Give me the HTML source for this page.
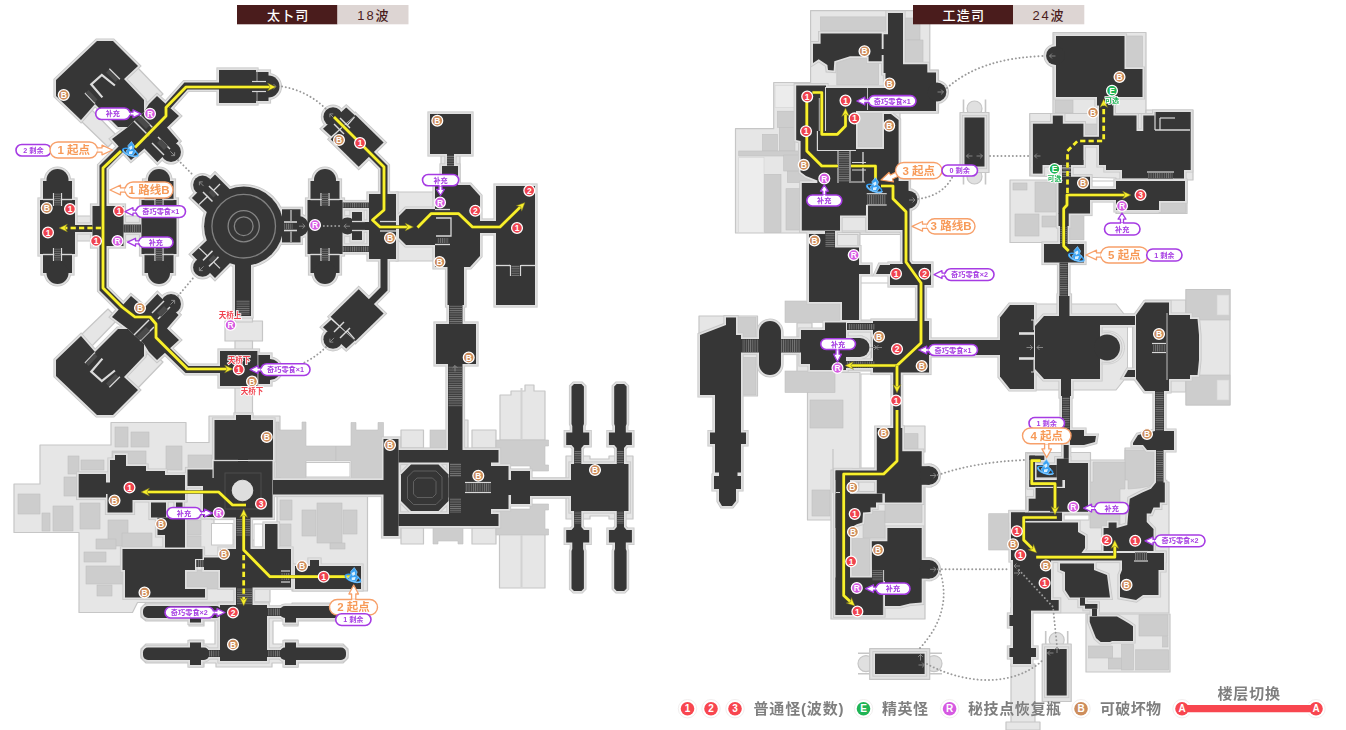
<!DOCTYPE html>
<html lang="zh"><head><meta charset="utf-8"><title>map</title><style>
html,body{margin:0;padding:0;background:#fff;}
body{width:1346px;height:730px;overflow:hidden;font-family:"Liberation Sans","Noto Sans CJK SC",sans-serif;}
svg{display:block}
.mt{fill:#fff;font-weight:700;text-anchor:middle;font-family:"Liberation Sans","Noto Sans CJK SC",sans-serif}
.lt{font-weight:700;text-anchor:middle;font-family:"Liberation Sans","Noto Sans CJK SC",sans-serif}
.tt{text-anchor:middle;font-family:"Liberation Sans","Noto Sans CJK SC",sans-serif}
.rt{fill:#f0434f;font-weight:700;text-anchor:middle;font-size:7.5px;stroke:#fff;stroke-width:1.6px;paint-order:stroke;font-family:"Liberation Sans","Noto Sans CJK SC",sans-serif}
.gt{fill:#1fb455;font-weight:700;text-anchor:middle;font-size:7px;stroke:#fff;stroke-width:1.6px;paint-order:stroke;font-family:"Liberation Sans","Noto Sans CJK SC",sans-serif}
.lg{fill:#7f7f7f;font-size:15px;font-weight:700;font-family:"Liberation Sans","Noto Sans CJK SC",sans-serif}
</style></head><body>
<svg width="1346" height="730" viewBox="0 0 1346 730">
<defs><pattern id="sh" width="4" height="2.2" patternUnits="userSpaceOnUse"><rect width="4" height="0.9" fill="#787878"/></pattern><pattern id="sv" width="2.2" height="4" patternUnits="userSpaceOnUse"><rect width="0.9" height="4" fill="#787878"/></pattern></defs>
<g fill="#e6e6e6" stroke="#c6c6c6" stroke-width="1.2" stroke-linejoin="round"><polygon points="124,79 137,67 163,94 150,105"/>
<polygon points="81,121 92,110 118,137 108,147"/>
<polygon points="124,377 137,389 163,362 150,351"/>
<polygon points="81,335 92,346 118,319 108,309"/>
<rect x="75" y="216" width="17.5" height="25"/>
<rect x="123.5" y="216" width="17.5" height="25"/>
<rect x="225" y="321" width="37.5" height="20"/>
<rect x="235" y="316" width="17.5" height="6"/>
<rect x="235" y="341" width="17.5" height="10"/>
<rect x="235" y="386" width="17.5" height="30"/>
<rect x="342.5" y="207" width="26.5" height="40"/>
<rect x="396" y="192" width="40" height="69"/>
<rect x="441" y="154" width="19" height="32"/>
<polygon points="14,484 40,484 40,445 111,445 111,422.5 186,422.5 186,442.5 209,442.5 209,416 280,416 280,480 214,480 214,540 270,540 270,602 137.5,602.5 132.5,612.5 79,612.5 79,532.5 14,532.5"/>
<polygon points="277,495 367.5,495 367.5,591 292,591 292,549 277,549"/>
<polygon points="218,602 269,602 269,606 292,606 292,603 343,603 348,608 348,617 343,621 298,621 298,626 284,626 284,621 273,621 273,644 284,644 284,640 298,640 298,644 343,644 348,649 348,658 343,663 298,663 298,667 284,667 284,663 272,663 272,667 216,667 216,663 204,663 204,667 189,667 189,663 146,663 141,658 141,649 146,644 189,644 189,640 204,640 204,644 215,644 215,621 204,621 204,626 189,626 189,621 146,621 141,617 141,608 146,603 218,603"/>
<rect x="398.5" y="462.5" width="51.5" height="51.5"/>
<polygon points="566,456 590,456 590,459 609,459 609,456 633,456 633,519 609,519 609,516 590,516 590,519 566,519 566,498 530,498 530,478 566,478"/>
<polygon points="500,395 511,395 511,391 525,391 525,385 534,385 534,391 545,391 545,440 500,440"/>
<polygon points="499.5,533 545,533 545,588 499.5,588"/>
<rect x="401" y="430" width="22.5" height="18"/>
<rect x="472" y="430" width="24" height="18"/>
<rect x="464" y="420" width="4" height="28"/>
<rect x="401" y="526" width="22.5" height="18"/>
<rect x="472" y="526" width="24" height="18"/>
<polygon points="810.6,10.6 929.8,10.6 929.8,70 938.5,70 938.5,113 900,113 900,233 735.5,233 735.5,128.7 773.7,128.7 773.7,82.5 810.6,82.5"/>
<rect x="840" y="216" width="26" height="15"/>
<rect x="835" y="232.5" width="25" height="15"/>
<rect x="837" y="234.5" width="21" height="12.5"/>
<rect x="699" y="316" width="58.5" height="80"/>
<rect x="797" y="323" width="15" height="51"/>
<polygon points="807.5,372.5 860,372.5 860,470 835.6,470 835.6,520 807.5,520"/>
<rect x="845" y="322" width="28" height="49"/>
<rect x="831" y="470" width="94" height="149"/>
<rect x="902" y="426" width="23" height="26"/>
<rect x="858.7" y="480" width="18.1" height="13.6"/>
<circle cx="974.5" cy="108.5" r="7.5" fill="#e0e0e0"/>
<circle cx="974.5" cy="176.5" r="7.5" fill="#e0e0e0"/>
<path d="M963.5,99.5 V184.5 M985.5,99.5 V184.5" fill="none" stroke-width="1.6"/>
<rect x="960" y="112.5" width="29" height="60" fill="#e2e2e2"/>
<circle cx="1056.7" cy="640" r="7.5" fill="#e0e0e0"/>
<path d="M1045.7,631 V701.5 M1067.7,631 V701.5" fill="none" stroke-width="1.6"/>
<rect x="1042.2" y="644" width="29" height="57.5" fill="#e2e2e2"/>
<circle cx="866" cy="663.6" r="8" fill="#e0e0e0"/><circle cx="934" cy="663.6" r="8" fill="#e0e0e0"/><path d="M858,653.3 H942 M858,673.8 H942" fill="none" stroke-width="1.6"/><rect x="869.7" y="648.7" width="60" height="30.7" fill="#e2e2e2"/>
<rect x="1053" y="32.5" width="93" height="81.5"/>
<polygon points="1029.7,113.5 1146,113.5 1146,110 1193,110 1193,180 1187,180 1187,213.5 1116,213.5 1116,178 1029.7,176"/>
<polygon points="1010,180 1059,180 1059,242.5 1010,242.5"/>
<polygon points="1000,317 1010,304 1116,304 1124,314 1135,314 1145,300 1186,300 1186,392 1145,392 1135,380 1124,380 1116,390 1010,390 1000,377"/>
<rect x="1186" y="289.5" width="44" height="115.5"/>
<rect x="1025.6" y="452.5" width="64.9" height="62.5"/>
<polygon points="1090.5,460 1125,460 1125,448 1156,448 1156,482 1169,482 1169,613 1020,613 1020,515 1090.5,515"/>
<polygon points="1086,614 1170,614 1170,672 1086,672"/>
<rect x="1011" y="664" width="24" height="66"/>
<rect x="1006" y="722" width="34" height="8"/></g>
<g fill="#cdcdcd" stroke="#c0c0c0" stroke-width="0.6"><rect x="18" y="494" width="22" height="20"/>
<rect x="42" y="513" width="8" height="18"/>
<rect x="53" y="506" width="20" height="25"/>
<rect x="80" y="503" width="20" height="26"/>
<rect x="64" y="477" width="13" height="19"/>
<rect x="68" y="456" width="11" height="18"/>
<rect x="81" y="460" width="23" height="10"/>
<rect x="115" y="427" width="13" height="20"/>
<rect x="131" y="432" width="18" height="15"/>
<rect x="112" y="451" width="34" height="13"/>
<rect x="166" y="446" width="16" height="24"/>
<rect x="188" y="455" width="24" height="15"/>
<rect x="108" y="520" width="20" height="26"/>
<rect x="122" y="533" width="30" height="15"/>
<rect x="96" y="539" width="20" height="10"/>
<rect x="84" y="552" width="22" height="10"/>
<rect x="86" y="566" width="38" height="18"/>
<rect x="97" y="585" width="15" height="11"/>
<rect x="187" y="520" width="14" height="15"/>
<rect x="187" y="536" width="14" height="15"/>
<rect x="186" y="570" width="34" height="19"/>
<rect x="158" y="549" width="28" height="11"/>
<rect x="302" y="510" width="14" height="26"/>
<rect x="317" y="503" width="25" height="40"/>
<rect x="343" y="510" width="14" height="24"/>
<rect x="330" y="543" width="15" height="6"/>
<rect x="280" y="500" width="12" height="20"/>
<rect x="280" y="524" width="11" height="22"/>
<polygon points="276,422 279,422 279,430 302,430 302,422 306,422 306,446 336,446 336,461 306,461 306,477.5 276,477.5"/>
<polygon points="351,422.5 356,422.5 356,430 378,430 378,422.5 383.5,422.5 383.5,477.5 351,477.5 351,461 336,461 336,446 351,446"/>
<polygon points="496,440 548.5,440 548.5,446 545,446 545,465 548.5,465 548.5,471 530,471 530,466 496,466"/>
<polygon points="496,535 548.5,535 548.5,529 545,529 545,510 548.5,510 548.5,504 530,504 530,509 496,509"/>
<rect x="430" y="430" width="17" height="18"/>
<polygon points="433,526 463,526 463,544 458,544 458,541 438,541 438,544 433,544"/>
<rect x="820.6" y="16.9" width="65.4" height="13.7"/>
<rect x="905" y="18" width="15" height="22"/>
<rect x="905" y="40" width="18" height="23.7"/>
<rect x="836.8" y="56" width="41.8" height="29"/>
<rect x="856" y="111" width="28" height="38"/>
<rect x="777.4" y="111.2" width="17.6" height="16.2"/>
<rect x="779.3" y="127.4" width="15.7" height="23.6"/>
<rect x="762.5" y="134.3" width="14.9" height="16.7"/>
<rect x="738.7" y="151" width="61.3" height="5"/>
<rect x="783.7" y="155" width="16.3" height="16"/>
<rect x="787.4" y="171.2" width="22.6" height="11.3"/>
<rect x="786" y="188.7" width="14.5" height="41.3"/>
<rect x="764.3" y="174.3" width="16.7" height="58.1"/>
<rect x="785" y="301" width="57.5" height="21.5"/>
<rect x="737.5" y="317.5" width="18.5" height="20"/>
<rect x="742.5" y="357.5" width="13.5" height="37.5"/>
<rect x="785" y="371" width="50" height="21.5"/>
<rect x="810" y="400" width="33" height="28"/>
<rect x="812" y="490" width="18" height="26"/>
<rect x="903.6" y="433.7" width="14.4" height="15.3"/>
<rect x="863" y="511" width="22" height="27"/>
<rect x="885" y="503.7" width="37" height="18.8"/>
<rect x="850" y="538.7" width="20" height="38.8"/>
<rect x="1124.5" y="36" width="18" height="33"/>
<rect x="1055" y="100" width="18" height="13"/>
<rect x="1085" y="124" width="12" height="12"/>
<rect x="1159" y="201" width="27" height="11.5"/>
<rect x="1013" y="183" width="14" height="7"/>
<rect x="1035" y="182" width="21" height="30"/>
<rect x="1015" y="214" width="24" height="22"/>
<rect x="1042" y="216" width="14" height="11"/>
<rect x="1069" y="212.5" width="15" height="27.5"/>
<rect x="1186" y="289.5" width="44" height="30.5"/>
<rect x="1186" y="375" width="44" height="30"/>
<rect x="988.7" y="513.7" width="21.3" height="36.3"/>
<polygon points="1125,450 1155,450 1155,485 1140,488 1128,489 1128,480 1125,480"/>
<polygon points="1093,462 1125,462 1125,489 1120,489 1120,528 1090,528 1090,482 1093,482"/>
<rect x="1139" y="614.8" width="29" height="21.2"/>
<rect x="1162.6" y="636.7" width="5.4" height="10.3"/>
<rect x="1135.7" y="649.8" width="32.9" height="20.2"/>
<rect x="1121.5" y="644.4" width="12" height="25.6"/>
<rect x="1108.4" y="658" width="13.1" height="11"/>
<rect x="1088.6" y="646" width="24.1" height="12"/></g>
<g fill="#e6e6e6" stroke="#d4d4d4" stroke-width="0.6"><path d="M521.5,388 V440 M521.5,535 V587" fill="none" stroke="#d2d2d2" stroke-width="2"/>
<rect x="775" y="85.6" width="20" height="22" fill="#ececec"/><rect x="738.7" y="157.5" width="25.3" height="75" fill="#ededed"/>
<rect x="1217" y="295" width="12" height="20"/>
<rect x="1217" y="380" width="12" height="20"/></g>
<g fill="#fff" stroke="#c6c6c6" stroke-width="1"><rect x="211.5" y="523.5" width="21.5" height="21.5"/>
<rect x="254" y="524" width="8.5" height="23"/>
<rect x="306" y="462.5" width="44" height="14.5"/>
<rect x="860" y="234.5" width="42" height="50.5"/>
<rect x="860" y="283" width="57" height="37"/>
<rect x="861" y="374" width="30" height="94"/>
<rect x="1091" y="181" width="24" height="7"/>
<rect x="1127.5" y="326" width="5" height="43"/>
<rect x="1063.7" y="515" width="25.3" height="5"/></g>
<g fill="#c8c8c8" stroke="#c8c8c8" stroke-width="5.2" stroke-linejoin="miter"><polygon points="97,41 113,41 138,66 124,79 144,100 144,112 128,127 118,127 95,104 81,120 56,96 56,80"/>
<polygon points="157,96 179,116 167,127.5 178.6,141 157.4,162 144.5,148.5 131,160 112,139 128,127 144,112 149,104"/>
<circle cx="171" cy="152" r="10"/>
<polygon points="97,415 113,415 138,390 124,377 144,356 144,344 128,329 118,329 95,352 81,336 56,360 56,376"/>
<polygon points="157,360 179,340 167,328.5 178.6,315 157.4,294 144.5,307.5 131,296 112,317 128,329 144,344 149,352"/>
<circle cx="171" cy="304" r="10"/>
<rect x="219" y="70" width="37" height="33"/>
<rect x="256" y="72" width="12.5" height="29"/>
<circle cx="268.5" cy="86.5" r="11"/>
<circle cx="57.5" cy="180" r="11"/>
<rect x="43" y="181" width="29" height="18"/>
<rect x="40" y="200" width="35" height="54"/>
<rect x="43" y="255" width="29" height="18"/>
<circle cx="57.5" cy="273" r="11"/>
<circle cx="159" cy="180" r="11"/>
<rect x="144.5" y="181" width="29" height="18"/>
<rect x="141.5" y="200" width="35" height="54"/>
<rect x="144.5" y="255" width="29" height="18"/>
<circle cx="159" cy="273" r="11"/>
<circle cx="325" cy="180" r="11"/>
<rect x="310.5" y="181" width="29" height="18"/>
<rect x="307.5" y="200" width="35" height="54"/>
<rect x="310.5" y="255" width="29" height="18"/>
<circle cx="325" cy="273" r="11"/>
<rect x="75" y="225" width="17.5" height="7"/>
<rect x="123.5" y="224.5" width="17.5" height="8"/>
<rect x="92.5" y="206" width="31" height="40"/>
<circle cx="243.7" cy="226.2" r="39.6"/>
<circle cx="202.5" cy="185" r="9.4"/>
<polygon points="215,174.4 233,192.5 211,216 191.9,198"/>
<circle cx="202.5" cy="267.4" r="9.4"/>
<polygon points="215,278 233,259.9 211,236.4 191.9,254.4"/>
<rect x="282" y="209.3" width="18.5" height="33.1"/>
<circle cx="298.5" cy="226.2" r="10.3"/>
<rect x="235" y="262" width="16" height="54"/>
<rect x="220" y="351" width="37.5" height="35"/>
<rect x="257.5" y="355" width="12.5" height="29"/>
<circle cx="270" cy="369.5" r="10.5"/>
<rect x="342.5" y="202.5" width="26.5" height="5.5"/>
<rect x="342.5" y="246" width="26.5" height="6"/>
<circle cx="347.5" cy="226" r="8.5"/>
<rect x="352" y="212" width="10" height="28"/>
<rect x="352" y="222" width="17" height="8"/>
<rect x="369" y="194" width="27" height="65"/>
<polygon points="399,216 406,209 452,209 452,245 406,245 399,238"/>
<polygon points="435,185 470,185 480,196 480,256 470,267 435,267"/>
<rect x="430" y="114" width="41" height="40"/>
<rect x="447" y="154" width="7" height="13"/>
<rect x="442" y="166" width="16" height="20"/>
<rect x="447.5" y="267" width="16.5" height="38"/>
<rect x="449" y="305" width="13.5" height="19"/>
<rect x="436" y="324" width="40" height="40"/>
<rect x="448" y="364" width="14.5" height="88"/>
<rect x="480" y="221" width="16" height="12"/>
<rect x="496" y="186" width="39" height="119"/>
<circle cx="333" cy="116.8" r="9.6"/>
<polygon points="346.2,107.5 355,115.6 331.2,136.2 323,128.7"/>
<polygon points="355.5,115 383.6,142.4 358.7,166.8 330.6,139.3"/>
<circle cx="333" cy="339.2" r="9.6"/>
<polygon points="346.2,348.5 355,340.4 331.2,319.8 323,327.3"/>
<polygon points="355.5,341 383.6,313.6 358.7,289.2 330.6,316.7"/>
<rect x="78.7" y="474" width="27.3" height="23.5"/>
<polygon points="115,455 126,455 126,466 146,466 146,471 165,471 165,475 185,475 185,500 132.5,500 132.5,512.5 107.5,512.5 107.5,494 101,494 101,482.5 110,482.5 110,460 115,460"/>
<rect x="187.5" y="469.5" width="25" height="16.5"/>
<rect x="151" y="502.5" width="15" height="15"/>
<rect x="176" y="502.5" width="6.5" height="15"/>
<polygon points="157.5,517.5 185,517.5 185,547.5 165,547.5 165,535 157.5,535"/>
<polygon points="122.5,549 202.5,549 202.5,559 195,559 195,570 185,570 185,589 205,589 205,597.5 125,597.5 125,570 122.5,570"/>
<rect x="214.5" y="420" width="58.5" height="40"/>
<rect x="236" y="415" width="15" height="6"/>
<rect x="213.7" y="461" width="58.8" height="56.5"/>
<rect x="203" y="478" width="11" height="39"/>
<rect x="273" y="480" width="111" height="14.5"/>
<rect x="236" y="517" width="14.5" height="33"/>
<rect x="265" y="524" width="12.5" height="25"/>
<polygon points="220,549 291,549 291,587.5 220,587.5 220,570 204,570 204,557.5 220,557.5"/>
<rect x="236" y="587" width="16.5" height="19"/>
<polygon points="295,566 310,566 310,560 319,560 319,566 361,566 361,589 295,589"/>
<rect x="220" y="605" width="47" height="56"/>
<rect x="143" y="606" width="78" height="12" rx="5"/>
<rect x="190" y="617" width="11" height="5.5"/>
<rect x="280" y="606" width="66" height="12" rx="5"/>
<rect x="285" y="617" width="11" height="5.5"/>
<rect x="267" y="608" width="14" height="8"/>
<rect x="143" y="647.5" width="66" height="12.5" rx="5"/>
<rect x="190" y="642.5" width="11" height="22.5"/>
<rect x="280" y="647.5" width="66" height="12.5" rx="5"/>
<rect x="285" y="642.5" width="11" height="22.5"/>
<rect x="208" y="650" width="13" height="7"/>
<rect x="267" y="650" width="14" height="7"/>
<rect x="383.5" y="439" width="15" height="97"/>
<rect x="398.5" y="450" width="100" height="12.5"/>
<rect x="398.5" y="514" width="100" height="12"/>
<polygon points="411,464.5 438.5,464.5 448.5,474.5 448.5,501 438.5,511 411,511 401,501 401,474.5"/>
<rect x="449" y="462" width="13" height="16"/>
<rect x="449" y="497" width="13" height="17"/>
<rect x="448.5" y="477.5" width="16.5" height="20"/>
<polygon points="462,462 491,462 491,526 462,526 462,495 465,495 465,480 462,480"/>
<rect x="491" y="466" width="17.5" height="43"/>
<rect x="511" y="471" width="19" height="33"/>
<rect x="508" y="480" width="4" height="15"/>
<rect x="530" y="480" width="41" height="16"/>
<rect x="571" y="464" width="57.5" height="47"/>
<polygon points="574,384 581.4,384 583.9,386.5 583.9,424 583.1,426 583.1,432.5 589.2,432.5 589.2,445 583.9,445 581.3,448 581.3,464 574.1,464 574.1,448 571.5,445 566.2,445 566.2,432.5 572.3,432.5 572.3,426 571.5,424 571.5,386.5"/>
<polygon points="574,591 581.4,591 583.9,588.5 583.9,551 583.1,549 583.1,542.5 589.2,542.5 589.2,530 583.9,530 581.3,527 581.3,511 574.1,511 574.1,527 571.5,530 566.2,530 566.2,542.5 572.3,542.5 572.3,549 571.5,551 571.5,588.5"/>
<polygon points="616.7,384 624.1,384 626.6,386.5 626.6,424 625.8,426 625.8,432.5 631.9,432.5 631.9,445 626.6,445 624,448 624,464 616.8,464 616.8,448 614.2,445 608.9,445 608.9,432.5 615,432.5 615,426 614.2,424 614.2,386.5"/>
<polygon points="616.7,591 624.1,591 626.6,588.5 626.6,551 625.8,549 625.8,542.5 631.9,542.5 631.9,530 626.6,530 624,527 624,511 616.8,511 616.8,527 614.2,530 608.9,530 608.9,542.5 615,542.5 615,549 614.2,551 614.2,588.5"/>
<polygon points="820.6,33.5 881.7,33.5 881.7,61.2 868.6,61.2 868.6,56.2 850,56.2 834.3,61.2 833.7,70.5 828,70 827.4,65 818.7,59.3 813,63 813,43.7 820.6,43.7"/>
<polygon points="888,13 903,13 903,64.3 927.3,64.3 927.3,72.4 936,72.4 936,111 826,111 826,88 885.5,88 885.5,73 883.6,73 883.6,34.3 888,34.3"/>
<rect x="881" y="49" width="4" height="6"/>
<circle cx="937" cy="92" r="9.4"/>
<circle cx="908.5" cy="199.7" r="9"/>
<polygon points="796.2,85.6 826,85.6 826,111 856,111 856,149 884,149 884,114 891,114 898.6,120 898.6,181 908.5,181 908.5,230 868,230 868,205 866,205 866,215.5 840,215.5 840,230.5 801.8,230.5 801.8,183 817.4,183 817.4,180.6 806,176 800.6,172 800.6,141 796.2,140"/>
<polygon points="809,234 835,234 835,247.5 859,247.5 859,265 870,265 870,274 859,274 859,320 842,320 842,302 809,302"/>
<rect x="825" y="231" width="10" height="17"/>
<rect x="890" y="264" width="41" height="21"/>
<polygon points="876,274 880,265 890,265 890,274"/>
<polygon points="700,335 726,325 726,317.5 736,317.5 736,335 741,335 741,432.5 746,432.5 746,444 741,444 741,472.5 737.5,472.5 737.5,476 741,476 741,489 736,489 736,501 732,506 722,506 719,501 719,489 714,489 714,476 719,476 719,472.5 715,472.5 715,444 710,444 710,432.5 715,432.5 715,395 700,395"/>
<rect x="741" y="339" width="18" height="13.5"/>
<rect x="759" y="321" width="22" height="54" rx="11"/>
<rect x="781" y="339" width="20" height="13.5"/>
<polygon points="801,330 825,330 825,322.5 846,322.5 846,338 860,338 860,357 846,357 846,370 810,370 810,364 801,364"/>
<circle cx="860" cy="347.5" r="9.5"/>
<rect x="847" y="323" width="29" height="7"/>
<rect x="845" y="361" width="31" height="7"/>
<rect x="873" y="321" width="56" height="51.5"/>
<rect x="929" y="340" width="71" height="15"/>
<polygon points="876.8,428 902.3,428 902.3,451.2 921.7,451.2 921.7,502.4 884.9,502.4 884.9,493.6 876.8,493.6"/>
<rect x="835.6" y="470.5" width="41.4" height="9.5"/>
<rect x="835.6" y="470.5" width="14.4" height="144.5"/>
<polygon points="835.6,493.7 882.4,493.7 882.4,502.5 876,502.5 876,507.5 870.5,507.5 870.5,512 863,512.5 862.4,522.5 856.8,524.3 850,528 835.6,528"/>
<polygon points="887.4,528 921.7,528 921.7,602.5 910,603.5 900,606 885,606 885,581 872,581 871.8,541.2 887.4,541.2"/>
<rect x="835.6" y="577.5" width="47.4" height="37.5"/>
<circle cx="929.2" cy="475.5" r="9.3"/>
<rect x="921" y="466.2" width="8.5" height="18.6"/>
<circle cx="929.2" cy="569.3" r="9.3"/>
<rect x="921" y="560" width="8.5" height="18.6"/>
<rect x="964.5" y="117.5" width="20" height="49"/>
<rect x="1046.7" y="649" width="20" height="46.5"/>
<rect x="875" y="653.7" width="49.6" height="20.3"/>
<polygon points="1056,36 1124.5,36 1124.5,69 1142.5,69 1142.5,97 1056,97"/>
<circle cx="1055.5" cy="55.7" r="9.4"/>
<rect x="1032.9" y="123.7" width="50.5" height="41.3"/>
<rect x="1052.8" y="115.6" width="10" height="8.4"/>
<rect x="1032.9" y="165" width="9.6" height="8.6"/>
<rect x="1062" y="165" width="9" height="12"/>
<rect x="1083" y="136.8" width="17" height="8.2"/>
<rect x="1071" y="160" width="12.4" height="5"/>
<polygon points="1097,97 1113.4,97 1113.4,115.6 1136.5,115.6 1136.5,131 1143.3,131 1143.3,115.6 1154.6,115.6 1154.6,112 1190.7,112 1190.7,170 1184,170 1184,178.6 1122,178.6 1122,170 1106,170 1106,165 1099,165 1099,105.6 1097,105.6"/>
<rect x="1058.5" y="176.8" width="31.5" height="36.7"/>
<rect x="1058.5" y="213" width="10.2" height="13"/>
<polygon points="1116,181 1185,181 1185,201 1159,201 1159,210 1116,210"/>
<rect x="1088" y="189" width="30" height="11"/>
<rect x="1060" y="226" width="7.5" height="18.5"/>
<rect x="1044" y="244" width="40" height="18.5"/>
<rect x="1059.5" y="262.5" width="8.5" height="34.5"/>
<rect x="1059" y="296" width="10.5" height="21"/>
<polygon points="1010,305 1034,305 1034,389 1010,389 1000,376.5 1000,317.5"/>
<polygon points="1044,316 1135,316 1135,325 1100,325 1100,379 1044,379 1035,369 1035,326"/>
<circle cx="1107" cy="347.5" r="13"/>
<rect x="1061" y="379" width="10" height="17"/>
<rect x="1062" y="396" width="8" height="35"/>
<polygon points="1124,377 1128,370 1135,370 1135,377"/>
<polygon points="1145,302.5 1169,302.5 1169,391 1145,391 1136,379 1136,315"/>
<polygon points="1167.5,315 1190,315 1190,319 1197.5,319 1199,335 1199,360 1197.5,375 1190,375 1190,379 1167.5,379"/>
<rect x="1155" y="391" width="9" height="41"/>
<polygon points="1070,430 1084,430 1084,436 1096,436 1095,442 1084,445 1070,445"/>
<polygon points="1133,443 1138,435 1155,431 1174,431 1174,450 1147,450 1143,445 1133,445"/>
<rect x="1156" y="450" width="7.5" height="33"/>
<rect x="1029.3" y="455.6" width="15" height="4.4"/>
<rect x="1029.3" y="455.6" width="5.7" height="31.2"/>
<rect x="1029.3" y="480" width="33.1" height="6.8"/>
<rect x="1036" y="465" width="20.8" height="12.4"/>
<rect x="1056.8" y="458.7" width="11.9" height="21.3"/>
<rect x="1063.7" y="445" width="5" height="13.7"/>
<rect x="1065" y="463" width="23" height="48.8"/>
<rect x="1035.6" y="488" width="29.4" height="23.8"/>
<rect x="1028.7" y="498.7" width="7.3" height="13.1"/>
<rect x="1011" y="512.5" width="51" height="8.5"/>
<polygon points="1025,522.5 1078,522.5 1078,532 1085,536 1085,548 1080,555 1025,555"/>
<rect x="1011" y="512.5" width="14" height="47.5"/>
<rect x="1013" y="553" width="38" height="47"/>
<rect x="1013" y="600" width="45.7" height="10.6"/>
<rect x="1013" y="610" width="18" height="54"/>
<rect x="1009.4" y="615" width="3.6" height="11"/>
<rect x="1009.4" y="648" width="26.6" height="9"/>
<rect x="1035" y="553" width="129" height="7.5"/>
<polygon points="1156,482.4 1164.8,482.4 1164.8,502.4 1159.8,502.4 1159.8,507.4 1153.5,507.4 1151,513.6 1146.7,513.6 1146.7,522 1153.5,529 1153.5,551 1103.6,551 1103.6,528 1108.6,528 1108.6,522.5 1116.6,522.5 1116.6,528 1127.3,524.9 1128.6,510 1129.8,498.7 1134.8,496.2 1142.3,492.4 1151,488.7"/>
<polygon points="1122,553.7 1164,553.7 1164,570 1158.5,570 1158.5,595 1143,595 1136,600 1120,597 1120,575 1122,570"/>
<polygon points="1060,563.6 1094,563.6 1094,570 1107,575 1110,597.5 1070,597.5 1065,590 1065,572 1060,570"/>
<rect x="1080" y="597.5" width="5" height="8.1"/>
<rect x="1085" y="604" width="12.4" height="4.7"/>
<rect x="1092" y="608.7" width="5" height="7.3"/>
<polygon points="1089.7,616.4 1117,616.4 1124,620.5 1129,623.5 1133,626.3 1133,641 1112,641 1110,642 1100.7,642 1096,638 1092,628 1089.7,622"/><polyline points="168,106 186,86 222,86" fill="none" stroke-width="12.2"/><polyline points="122,148 103,167 103,289 122,308" fill="none" stroke-width="12.2"/><polyline points="166,349 187,369.5 222,369.5" fill="none" stroke-width="12.2"/><polyline points="371,154 384,167 384,196" fill="none" stroke-width="12.2"/><polyline points="384,258 384,289 371,302" fill="none" stroke-width="12.2"/><polyline points="906,208 906,262 921,283 921,323" fill="none" stroke-width="12.2"/><polyline points="897,372 897,429" fill="none" stroke-width="12.7"/></g>
<g fill="#e0e0e0" stroke="#e0e0e0" stroke-width="3.4" stroke-linejoin="miter"><polygon points="97,41 113,41 138,66 124,79 144,100 144,112 128,127 118,127 95,104 81,120 56,96 56,80"/>
<polygon points="157,96 179,116 167,127.5 178.6,141 157.4,162 144.5,148.5 131,160 112,139 128,127 144,112 149,104"/>
<circle cx="171" cy="152" r="10"/>
<polygon points="97,415 113,415 138,390 124,377 144,356 144,344 128,329 118,329 95,352 81,336 56,360 56,376"/>
<polygon points="157,360 179,340 167,328.5 178.6,315 157.4,294 144.5,307.5 131,296 112,317 128,329 144,344 149,352"/>
<circle cx="171" cy="304" r="10"/>
<rect x="219" y="70" width="37" height="33"/>
<rect x="256" y="72" width="12.5" height="29"/>
<circle cx="268.5" cy="86.5" r="11"/>
<circle cx="57.5" cy="180" r="11"/>
<rect x="43" y="181" width="29" height="18"/>
<rect x="40" y="200" width="35" height="54"/>
<rect x="43" y="255" width="29" height="18"/>
<circle cx="57.5" cy="273" r="11"/>
<circle cx="159" cy="180" r="11"/>
<rect x="144.5" y="181" width="29" height="18"/>
<rect x="141.5" y="200" width="35" height="54"/>
<rect x="144.5" y="255" width="29" height="18"/>
<circle cx="159" cy="273" r="11"/>
<circle cx="325" cy="180" r="11"/>
<rect x="310.5" y="181" width="29" height="18"/>
<rect x="307.5" y="200" width="35" height="54"/>
<rect x="310.5" y="255" width="29" height="18"/>
<circle cx="325" cy="273" r="11"/>
<rect x="75" y="225" width="17.5" height="7"/>
<rect x="123.5" y="224.5" width="17.5" height="8"/>
<rect x="92.5" y="206" width="31" height="40"/>
<circle cx="243.7" cy="226.2" r="39.6"/>
<circle cx="202.5" cy="185" r="9.4"/>
<polygon points="215,174.4 233,192.5 211,216 191.9,198"/>
<circle cx="202.5" cy="267.4" r="9.4"/>
<polygon points="215,278 233,259.9 211,236.4 191.9,254.4"/>
<rect x="282" y="209.3" width="18.5" height="33.1"/>
<circle cx="298.5" cy="226.2" r="10.3"/>
<rect x="235" y="262" width="16" height="54"/>
<rect x="220" y="351" width="37.5" height="35"/>
<rect x="257.5" y="355" width="12.5" height="29"/>
<circle cx="270" cy="369.5" r="10.5"/>
<rect x="342.5" y="202.5" width="26.5" height="5.5"/>
<rect x="342.5" y="246" width="26.5" height="6"/>
<circle cx="347.5" cy="226" r="8.5"/>
<rect x="352" y="212" width="10" height="28"/>
<rect x="352" y="222" width="17" height="8"/>
<rect x="369" y="194" width="27" height="65"/>
<polygon points="399,216 406,209 452,209 452,245 406,245 399,238"/>
<polygon points="435,185 470,185 480,196 480,256 470,267 435,267"/>
<rect x="430" y="114" width="41" height="40"/>
<rect x="447" y="154" width="7" height="13"/>
<rect x="442" y="166" width="16" height="20"/>
<rect x="447.5" y="267" width="16.5" height="38"/>
<rect x="449" y="305" width="13.5" height="19"/>
<rect x="436" y="324" width="40" height="40"/>
<rect x="448" y="364" width="14.5" height="88"/>
<rect x="480" y="221" width="16" height="12"/>
<rect x="496" y="186" width="39" height="119"/>
<circle cx="333" cy="116.8" r="9.6"/>
<polygon points="346.2,107.5 355,115.6 331.2,136.2 323,128.7"/>
<polygon points="355.5,115 383.6,142.4 358.7,166.8 330.6,139.3"/>
<circle cx="333" cy="339.2" r="9.6"/>
<polygon points="346.2,348.5 355,340.4 331.2,319.8 323,327.3"/>
<polygon points="355.5,341 383.6,313.6 358.7,289.2 330.6,316.7"/>
<rect x="78.7" y="474" width="27.3" height="23.5"/>
<polygon points="115,455 126,455 126,466 146,466 146,471 165,471 165,475 185,475 185,500 132.5,500 132.5,512.5 107.5,512.5 107.5,494 101,494 101,482.5 110,482.5 110,460 115,460"/>
<rect x="187.5" y="469.5" width="25" height="16.5"/>
<rect x="151" y="502.5" width="15" height="15"/>
<rect x="176" y="502.5" width="6.5" height="15"/>
<polygon points="157.5,517.5 185,517.5 185,547.5 165,547.5 165,535 157.5,535"/>
<polygon points="122.5,549 202.5,549 202.5,559 195,559 195,570 185,570 185,589 205,589 205,597.5 125,597.5 125,570 122.5,570"/>
<rect x="214.5" y="420" width="58.5" height="40"/>
<rect x="236" y="415" width="15" height="6"/>
<rect x="213.7" y="461" width="58.8" height="56.5"/>
<rect x="203" y="478" width="11" height="39"/>
<rect x="273" y="480" width="111" height="14.5"/>
<rect x="236" y="517" width="14.5" height="33"/>
<rect x="265" y="524" width="12.5" height="25"/>
<polygon points="220,549 291,549 291,587.5 220,587.5 220,570 204,570 204,557.5 220,557.5"/>
<rect x="236" y="587" width="16.5" height="19"/>
<polygon points="295,566 310,566 310,560 319,560 319,566 361,566 361,589 295,589"/>
<rect x="220" y="605" width="47" height="56"/>
<rect x="143" y="606" width="78" height="12" rx="5"/>
<rect x="190" y="617" width="11" height="5.5"/>
<rect x="280" y="606" width="66" height="12" rx="5"/>
<rect x="285" y="617" width="11" height="5.5"/>
<rect x="267" y="608" width="14" height="8"/>
<rect x="143" y="647.5" width="66" height="12.5" rx="5"/>
<rect x="190" y="642.5" width="11" height="22.5"/>
<rect x="280" y="647.5" width="66" height="12.5" rx="5"/>
<rect x="285" y="642.5" width="11" height="22.5"/>
<rect x="208" y="650" width="13" height="7"/>
<rect x="267" y="650" width="14" height="7"/>
<rect x="383.5" y="439" width="15" height="97"/>
<rect x="398.5" y="450" width="100" height="12.5"/>
<rect x="398.5" y="514" width="100" height="12"/>
<polygon points="411,464.5 438.5,464.5 448.5,474.5 448.5,501 438.5,511 411,511 401,501 401,474.5"/>
<rect x="449" y="462" width="13" height="16"/>
<rect x="449" y="497" width="13" height="17"/>
<rect x="448.5" y="477.5" width="16.5" height="20"/>
<polygon points="462,462 491,462 491,526 462,526 462,495 465,495 465,480 462,480"/>
<rect x="491" y="466" width="17.5" height="43"/>
<rect x="511" y="471" width="19" height="33"/>
<rect x="508" y="480" width="4" height="15"/>
<rect x="530" y="480" width="41" height="16"/>
<rect x="571" y="464" width="57.5" height="47"/>
<polygon points="574,384 581.4,384 583.9,386.5 583.9,424 583.1,426 583.1,432.5 589.2,432.5 589.2,445 583.9,445 581.3,448 581.3,464 574.1,464 574.1,448 571.5,445 566.2,445 566.2,432.5 572.3,432.5 572.3,426 571.5,424 571.5,386.5"/>
<polygon points="574,591 581.4,591 583.9,588.5 583.9,551 583.1,549 583.1,542.5 589.2,542.5 589.2,530 583.9,530 581.3,527 581.3,511 574.1,511 574.1,527 571.5,530 566.2,530 566.2,542.5 572.3,542.5 572.3,549 571.5,551 571.5,588.5"/>
<polygon points="616.7,384 624.1,384 626.6,386.5 626.6,424 625.8,426 625.8,432.5 631.9,432.5 631.9,445 626.6,445 624,448 624,464 616.8,464 616.8,448 614.2,445 608.9,445 608.9,432.5 615,432.5 615,426 614.2,424 614.2,386.5"/>
<polygon points="616.7,591 624.1,591 626.6,588.5 626.6,551 625.8,549 625.8,542.5 631.9,542.5 631.9,530 626.6,530 624,527 624,511 616.8,511 616.8,527 614.2,530 608.9,530 608.9,542.5 615,542.5 615,549 614.2,551 614.2,588.5"/>
<polygon points="820.6,33.5 881.7,33.5 881.7,61.2 868.6,61.2 868.6,56.2 850,56.2 834.3,61.2 833.7,70.5 828,70 827.4,65 818.7,59.3 813,63 813,43.7 820.6,43.7"/>
<polygon points="888,13 903,13 903,64.3 927.3,64.3 927.3,72.4 936,72.4 936,111 826,111 826,88 885.5,88 885.5,73 883.6,73 883.6,34.3 888,34.3"/>
<rect x="881" y="49" width="4" height="6"/>
<circle cx="937" cy="92" r="9.4"/>
<circle cx="908.5" cy="199.7" r="9"/>
<polygon points="796.2,85.6 826,85.6 826,111 856,111 856,149 884,149 884,114 891,114 898.6,120 898.6,181 908.5,181 908.5,230 868,230 868,205 866,205 866,215.5 840,215.5 840,230.5 801.8,230.5 801.8,183 817.4,183 817.4,180.6 806,176 800.6,172 800.6,141 796.2,140"/>
<polygon points="809,234 835,234 835,247.5 859,247.5 859,265 870,265 870,274 859,274 859,320 842,320 842,302 809,302"/>
<rect x="825" y="231" width="10" height="17"/>
<rect x="890" y="264" width="41" height="21"/>
<polygon points="876,274 880,265 890,265 890,274"/>
<polygon points="700,335 726,325 726,317.5 736,317.5 736,335 741,335 741,432.5 746,432.5 746,444 741,444 741,472.5 737.5,472.5 737.5,476 741,476 741,489 736,489 736,501 732,506 722,506 719,501 719,489 714,489 714,476 719,476 719,472.5 715,472.5 715,444 710,444 710,432.5 715,432.5 715,395 700,395"/>
<rect x="741" y="339" width="18" height="13.5"/>
<rect x="759" y="321" width="22" height="54" rx="11"/>
<rect x="781" y="339" width="20" height="13.5"/>
<polygon points="801,330 825,330 825,322.5 846,322.5 846,338 860,338 860,357 846,357 846,370 810,370 810,364 801,364"/>
<circle cx="860" cy="347.5" r="9.5"/>
<rect x="847" y="323" width="29" height="7"/>
<rect x="845" y="361" width="31" height="7"/>
<rect x="873" y="321" width="56" height="51.5"/>
<rect x="929" y="340" width="71" height="15"/>
<polygon points="876.8,428 902.3,428 902.3,451.2 921.7,451.2 921.7,502.4 884.9,502.4 884.9,493.6 876.8,493.6"/>
<rect x="835.6" y="470.5" width="41.4" height="9.5"/>
<rect x="835.6" y="470.5" width="14.4" height="144.5"/>
<polygon points="835.6,493.7 882.4,493.7 882.4,502.5 876,502.5 876,507.5 870.5,507.5 870.5,512 863,512.5 862.4,522.5 856.8,524.3 850,528 835.6,528"/>
<polygon points="887.4,528 921.7,528 921.7,602.5 910,603.5 900,606 885,606 885,581 872,581 871.8,541.2 887.4,541.2"/>
<rect x="835.6" y="577.5" width="47.4" height="37.5"/>
<circle cx="929.2" cy="475.5" r="9.3"/>
<rect x="921" y="466.2" width="8.5" height="18.6"/>
<circle cx="929.2" cy="569.3" r="9.3"/>
<rect x="921" y="560" width="8.5" height="18.6"/>
<rect x="964.5" y="117.5" width="20" height="49"/>
<rect x="1046.7" y="649" width="20" height="46.5"/>
<rect x="875" y="653.7" width="49.6" height="20.3"/>
<polygon points="1056,36 1124.5,36 1124.5,69 1142.5,69 1142.5,97 1056,97"/>
<circle cx="1055.5" cy="55.7" r="9.4"/>
<rect x="1032.9" y="123.7" width="50.5" height="41.3"/>
<rect x="1052.8" y="115.6" width="10" height="8.4"/>
<rect x="1032.9" y="165" width="9.6" height="8.6"/>
<rect x="1062" y="165" width="9" height="12"/>
<rect x="1083" y="136.8" width="17" height="8.2"/>
<rect x="1071" y="160" width="12.4" height="5"/>
<polygon points="1097,97 1113.4,97 1113.4,115.6 1136.5,115.6 1136.5,131 1143.3,131 1143.3,115.6 1154.6,115.6 1154.6,112 1190.7,112 1190.7,170 1184,170 1184,178.6 1122,178.6 1122,170 1106,170 1106,165 1099,165 1099,105.6 1097,105.6"/>
<rect x="1058.5" y="176.8" width="31.5" height="36.7"/>
<rect x="1058.5" y="213" width="10.2" height="13"/>
<polygon points="1116,181 1185,181 1185,201 1159,201 1159,210 1116,210"/>
<rect x="1088" y="189" width="30" height="11"/>
<rect x="1060" y="226" width="7.5" height="18.5"/>
<rect x="1044" y="244" width="40" height="18.5"/>
<rect x="1059.5" y="262.5" width="8.5" height="34.5"/>
<rect x="1059" y="296" width="10.5" height="21"/>
<polygon points="1010,305 1034,305 1034,389 1010,389 1000,376.5 1000,317.5"/>
<polygon points="1044,316 1135,316 1135,325 1100,325 1100,379 1044,379 1035,369 1035,326"/>
<circle cx="1107" cy="347.5" r="13"/>
<rect x="1061" y="379" width="10" height="17"/>
<rect x="1062" y="396" width="8" height="35"/>
<polygon points="1124,377 1128,370 1135,370 1135,377"/>
<polygon points="1145,302.5 1169,302.5 1169,391 1145,391 1136,379 1136,315"/>
<polygon points="1167.5,315 1190,315 1190,319 1197.5,319 1199,335 1199,360 1197.5,375 1190,375 1190,379 1167.5,379"/>
<rect x="1155" y="391" width="9" height="41"/>
<polygon points="1070,430 1084,430 1084,436 1096,436 1095,442 1084,445 1070,445"/>
<polygon points="1133,443 1138,435 1155,431 1174,431 1174,450 1147,450 1143,445 1133,445"/>
<rect x="1156" y="450" width="7.5" height="33"/>
<rect x="1029.3" y="455.6" width="15" height="4.4"/>
<rect x="1029.3" y="455.6" width="5.7" height="31.2"/>
<rect x="1029.3" y="480" width="33.1" height="6.8"/>
<rect x="1036" y="465" width="20.8" height="12.4"/>
<rect x="1056.8" y="458.7" width="11.9" height="21.3"/>
<rect x="1063.7" y="445" width="5" height="13.7"/>
<rect x="1065" y="463" width="23" height="48.8"/>
<rect x="1035.6" y="488" width="29.4" height="23.8"/>
<rect x="1028.7" y="498.7" width="7.3" height="13.1"/>
<rect x="1011" y="512.5" width="51" height="8.5"/>
<polygon points="1025,522.5 1078,522.5 1078,532 1085,536 1085,548 1080,555 1025,555"/>
<rect x="1011" y="512.5" width="14" height="47.5"/>
<rect x="1013" y="553" width="38" height="47"/>
<rect x="1013" y="600" width="45.7" height="10.6"/>
<rect x="1013" y="610" width="18" height="54"/>
<rect x="1009.4" y="615" width="3.6" height="11"/>
<rect x="1009.4" y="648" width="26.6" height="9"/>
<rect x="1035" y="553" width="129" height="7.5"/>
<polygon points="1156,482.4 1164.8,482.4 1164.8,502.4 1159.8,502.4 1159.8,507.4 1153.5,507.4 1151,513.6 1146.7,513.6 1146.7,522 1153.5,529 1153.5,551 1103.6,551 1103.6,528 1108.6,528 1108.6,522.5 1116.6,522.5 1116.6,528 1127.3,524.9 1128.6,510 1129.8,498.7 1134.8,496.2 1142.3,492.4 1151,488.7"/>
<polygon points="1122,553.7 1164,553.7 1164,570 1158.5,570 1158.5,595 1143,595 1136,600 1120,597 1120,575 1122,570"/>
<polygon points="1060,563.6 1094,563.6 1094,570 1107,575 1110,597.5 1070,597.5 1065,590 1065,572 1060,570"/>
<rect x="1080" y="597.5" width="5" height="8.1"/>
<rect x="1085" y="604" width="12.4" height="4.7"/>
<rect x="1092" y="608.7" width="5" height="7.3"/>
<polygon points="1089.7,616.4 1117,616.4 1124,620.5 1129,623.5 1133,626.3 1133,641 1112,641 1110,642 1100.7,642 1096,638 1092,628 1089.7,622"/><polyline points="168,106 186,86 222,86" fill="none" stroke-width="10.4"/><polyline points="122,148 103,167 103,289 122,308" fill="none" stroke-width="10.4"/><polyline points="166,349 187,369.5 222,369.5" fill="none" stroke-width="10.4"/><polyline points="371,154 384,167 384,196" fill="none" stroke-width="10.4"/><polyline points="384,258 384,289 371,302" fill="none" stroke-width="10.4"/><polyline points="906,208 906,262 921,283 921,323" fill="none" stroke-width="10.4"/><polyline points="897,372 897,429" fill="none" stroke-width="10.9"/></g>
<g fill="#363636" stroke="#363636"><g stroke="none"><polygon points="97,41 113,41 138,66 124,79 144,100 144,112 128,127 118,127 95,104 81,120 56,96 56,80"/>
<polygon points="157,96 179,116 167,127.5 178.6,141 157.4,162 144.5,148.5 131,160 112,139 128,127 144,112 149,104"/>
<circle cx="171" cy="152" r="10"/>
<polygon points="97,415 113,415 138,390 124,377 144,356 144,344 128,329 118,329 95,352 81,336 56,360 56,376"/>
<polygon points="157,360 179,340 167,328.5 178.6,315 157.4,294 144.5,307.5 131,296 112,317 128,329 144,344 149,352"/>
<circle cx="171" cy="304" r="10"/>
<rect x="219" y="70" width="37" height="33"/>
<rect x="256" y="72" width="12.5" height="29"/>
<circle cx="268.5" cy="86.5" r="11"/>
<circle cx="57.5" cy="180" r="11"/>
<rect x="43" y="181" width="29" height="18"/>
<rect x="40" y="200" width="35" height="54"/>
<rect x="43" y="255" width="29" height="18"/>
<circle cx="57.5" cy="273" r="11"/>
<circle cx="159" cy="180" r="11"/>
<rect x="144.5" y="181" width="29" height="18"/>
<rect x="141.5" y="200" width="35" height="54"/>
<rect x="144.5" y="255" width="29" height="18"/>
<circle cx="159" cy="273" r="11"/>
<circle cx="325" cy="180" r="11"/>
<rect x="310.5" y="181" width="29" height="18"/>
<rect x="307.5" y="200" width="35" height="54"/>
<rect x="310.5" y="255" width="29" height="18"/>
<circle cx="325" cy="273" r="11"/>
<rect x="75" y="225" width="17.5" height="7"/>
<rect x="123.5" y="224.5" width="17.5" height="8"/>
<rect x="92.5" y="206" width="31" height="40"/>
<circle cx="243.7" cy="226.2" r="39.6"/>
<circle cx="202.5" cy="185" r="9.4"/>
<polygon points="215,174.4 233,192.5 211,216 191.9,198"/>
<circle cx="202.5" cy="267.4" r="9.4"/>
<polygon points="215,278 233,259.9 211,236.4 191.9,254.4"/>
<rect x="282" y="209.3" width="18.5" height="33.1"/>
<circle cx="298.5" cy="226.2" r="10.3"/>
<rect x="235" y="262" width="16" height="54"/>
<rect x="220" y="351" width="37.5" height="35"/>
<rect x="257.5" y="355" width="12.5" height="29"/>
<circle cx="270" cy="369.5" r="10.5"/>
<rect x="342.5" y="202.5" width="26.5" height="5.5"/>
<rect x="342.5" y="246" width="26.5" height="6"/>
<circle cx="347.5" cy="226" r="8.5"/>
<rect x="352" y="212" width="10" height="28"/>
<rect x="352" y="222" width="17" height="8"/>
<rect x="369" y="194" width="27" height="65"/>
<polygon points="399,216 406,209 452,209 452,245 406,245 399,238"/>
<polygon points="435,185 470,185 480,196 480,256 470,267 435,267"/>
<rect x="430" y="114" width="41" height="40"/>
<rect x="447" y="154" width="7" height="13"/>
<rect x="442" y="166" width="16" height="20"/>
<rect x="447.5" y="267" width="16.5" height="38"/>
<rect x="449" y="305" width="13.5" height="19"/>
<rect x="436" y="324" width="40" height="40"/>
<rect x="448" y="364" width="14.5" height="88"/>
<rect x="480" y="221" width="16" height="12"/>
<rect x="496" y="186" width="39" height="119"/>
<circle cx="333" cy="116.8" r="9.6"/>
<polygon points="346.2,107.5 355,115.6 331.2,136.2 323,128.7"/>
<polygon points="355.5,115 383.6,142.4 358.7,166.8 330.6,139.3"/>
<circle cx="333" cy="339.2" r="9.6"/>
<polygon points="346.2,348.5 355,340.4 331.2,319.8 323,327.3"/>
<polygon points="355.5,341 383.6,313.6 358.7,289.2 330.6,316.7"/>
<rect x="78.7" y="474" width="27.3" height="23.5"/>
<polygon points="115,455 126,455 126,466 146,466 146,471 165,471 165,475 185,475 185,500 132.5,500 132.5,512.5 107.5,512.5 107.5,494 101,494 101,482.5 110,482.5 110,460 115,460"/>
<rect x="187.5" y="469.5" width="25" height="16.5"/>
<rect x="151" y="502.5" width="15" height="15"/>
<rect x="176" y="502.5" width="6.5" height="15"/>
<polygon points="157.5,517.5 185,517.5 185,547.5 165,547.5 165,535 157.5,535"/>
<polygon points="122.5,549 202.5,549 202.5,559 195,559 195,570 185,570 185,589 205,589 205,597.5 125,597.5 125,570 122.5,570"/>
<rect x="214.5" y="420" width="58.5" height="40"/>
<rect x="236" y="415" width="15" height="6"/>
<rect x="213.7" y="461" width="58.8" height="56.5"/>
<rect x="203" y="478" width="11" height="39"/>
<rect x="273" y="480" width="111" height="14.5"/>
<rect x="236" y="517" width="14.5" height="33"/>
<rect x="265" y="524" width="12.5" height="25"/>
<polygon points="220,549 291,549 291,587.5 220,587.5 220,570 204,570 204,557.5 220,557.5"/>
<rect x="236" y="587" width="16.5" height="19"/>
<polygon points="295,566 310,566 310,560 319,560 319,566 361,566 361,589 295,589"/>
<rect x="220" y="605" width="47" height="56"/>
<rect x="143" y="606" width="78" height="12" rx="5"/>
<rect x="190" y="617" width="11" height="5.5"/>
<rect x="280" y="606" width="66" height="12" rx="5"/>
<rect x="285" y="617" width="11" height="5.5"/>
<rect x="267" y="608" width="14" height="8"/>
<rect x="143" y="647.5" width="66" height="12.5" rx="5"/>
<rect x="190" y="642.5" width="11" height="22.5"/>
<rect x="280" y="647.5" width="66" height="12.5" rx="5"/>
<rect x="285" y="642.5" width="11" height="22.5"/>
<rect x="208" y="650" width="13" height="7"/>
<rect x="267" y="650" width="14" height="7"/>
<rect x="383.5" y="439" width="15" height="97"/>
<rect x="398.5" y="450" width="100" height="12.5"/>
<rect x="398.5" y="514" width="100" height="12"/>
<polygon points="411,464.5 438.5,464.5 448.5,474.5 448.5,501 438.5,511 411,511 401,501 401,474.5"/>
<rect x="449" y="462" width="13" height="16"/>
<rect x="449" y="497" width="13" height="17"/>
<rect x="448.5" y="477.5" width="16.5" height="20"/>
<polygon points="462,462 491,462 491,526 462,526 462,495 465,495 465,480 462,480"/>
<rect x="491" y="466" width="17.5" height="43"/>
<rect x="511" y="471" width="19" height="33"/>
<rect x="508" y="480" width="4" height="15"/>
<rect x="530" y="480" width="41" height="16"/>
<rect x="571" y="464" width="57.5" height="47"/>
<polygon points="574,384 581.4,384 583.9,386.5 583.9,424 583.1,426 583.1,432.5 589.2,432.5 589.2,445 583.9,445 581.3,448 581.3,464 574.1,464 574.1,448 571.5,445 566.2,445 566.2,432.5 572.3,432.5 572.3,426 571.5,424 571.5,386.5"/>
<polygon points="574,591 581.4,591 583.9,588.5 583.9,551 583.1,549 583.1,542.5 589.2,542.5 589.2,530 583.9,530 581.3,527 581.3,511 574.1,511 574.1,527 571.5,530 566.2,530 566.2,542.5 572.3,542.5 572.3,549 571.5,551 571.5,588.5"/>
<polygon points="616.7,384 624.1,384 626.6,386.5 626.6,424 625.8,426 625.8,432.5 631.9,432.5 631.9,445 626.6,445 624,448 624,464 616.8,464 616.8,448 614.2,445 608.9,445 608.9,432.5 615,432.5 615,426 614.2,424 614.2,386.5"/>
<polygon points="616.7,591 624.1,591 626.6,588.5 626.6,551 625.8,549 625.8,542.5 631.9,542.5 631.9,530 626.6,530 624,527 624,511 616.8,511 616.8,527 614.2,530 608.9,530 608.9,542.5 615,542.5 615,549 614.2,551 614.2,588.5"/>
<polygon points="820.6,33.5 881.7,33.5 881.7,61.2 868.6,61.2 868.6,56.2 850,56.2 834.3,61.2 833.7,70.5 828,70 827.4,65 818.7,59.3 813,63 813,43.7 820.6,43.7"/>
<polygon points="888,13 903,13 903,64.3 927.3,64.3 927.3,72.4 936,72.4 936,111 826,111 826,88 885.5,88 885.5,73 883.6,73 883.6,34.3 888,34.3"/>
<rect x="881" y="49" width="4" height="6"/>
<circle cx="937" cy="92" r="9.4"/>
<circle cx="908.5" cy="199.7" r="9"/>
<polygon points="796.2,85.6 826,85.6 826,111 856,111 856,149 884,149 884,114 891,114 898.6,120 898.6,181 908.5,181 908.5,230 868,230 868,205 866,205 866,215.5 840,215.5 840,230.5 801.8,230.5 801.8,183 817.4,183 817.4,180.6 806,176 800.6,172 800.6,141 796.2,140"/>
<polygon points="809,234 835,234 835,247.5 859,247.5 859,265 870,265 870,274 859,274 859,320 842,320 842,302 809,302"/>
<rect x="825" y="231" width="10" height="17"/>
<rect x="890" y="264" width="41" height="21"/>
<polygon points="876,274 880,265 890,265 890,274"/>
<polygon points="700,335 726,325 726,317.5 736,317.5 736,335 741,335 741,432.5 746,432.5 746,444 741,444 741,472.5 737.5,472.5 737.5,476 741,476 741,489 736,489 736,501 732,506 722,506 719,501 719,489 714,489 714,476 719,476 719,472.5 715,472.5 715,444 710,444 710,432.5 715,432.5 715,395 700,395"/>
<rect x="741" y="339" width="18" height="13.5"/>
<rect x="759" y="321" width="22" height="54" rx="11"/>
<rect x="781" y="339" width="20" height="13.5"/>
<polygon points="801,330 825,330 825,322.5 846,322.5 846,338 860,338 860,357 846,357 846,370 810,370 810,364 801,364"/>
<circle cx="860" cy="347.5" r="9.5"/>
<rect x="847" y="323" width="29" height="7"/>
<rect x="845" y="361" width="31" height="7"/>
<rect x="873" y="321" width="56" height="51.5"/>
<rect x="929" y="340" width="71" height="15"/>
<polygon points="876.8,428 902.3,428 902.3,451.2 921.7,451.2 921.7,502.4 884.9,502.4 884.9,493.6 876.8,493.6"/>
<rect x="835.6" y="470.5" width="41.4" height="9.5"/>
<rect x="835.6" y="470.5" width="14.4" height="144.5"/>
<polygon points="835.6,493.7 882.4,493.7 882.4,502.5 876,502.5 876,507.5 870.5,507.5 870.5,512 863,512.5 862.4,522.5 856.8,524.3 850,528 835.6,528"/>
<polygon points="887.4,528 921.7,528 921.7,602.5 910,603.5 900,606 885,606 885,581 872,581 871.8,541.2 887.4,541.2"/>
<rect x="835.6" y="577.5" width="47.4" height="37.5"/>
<circle cx="929.2" cy="475.5" r="9.3"/>
<rect x="921" y="466.2" width="8.5" height="18.6"/>
<circle cx="929.2" cy="569.3" r="9.3"/>
<rect x="921" y="560" width="8.5" height="18.6"/>
<rect x="964.5" y="117.5" width="20" height="49"/>
<rect x="1046.7" y="649" width="20" height="46.5"/>
<rect x="875" y="653.7" width="49.6" height="20.3"/>
<polygon points="1056,36 1124.5,36 1124.5,69 1142.5,69 1142.5,97 1056,97"/>
<circle cx="1055.5" cy="55.7" r="9.4"/>
<rect x="1032.9" y="123.7" width="50.5" height="41.3"/>
<rect x="1052.8" y="115.6" width="10" height="8.4"/>
<rect x="1032.9" y="165" width="9.6" height="8.6"/>
<rect x="1062" y="165" width="9" height="12"/>
<rect x="1083" y="136.8" width="17" height="8.2"/>
<rect x="1071" y="160" width="12.4" height="5"/>
<polygon points="1097,97 1113.4,97 1113.4,115.6 1136.5,115.6 1136.5,131 1143.3,131 1143.3,115.6 1154.6,115.6 1154.6,112 1190.7,112 1190.7,170 1184,170 1184,178.6 1122,178.6 1122,170 1106,170 1106,165 1099,165 1099,105.6 1097,105.6"/>
<rect x="1058.5" y="176.8" width="31.5" height="36.7"/>
<rect x="1058.5" y="213" width="10.2" height="13"/>
<polygon points="1116,181 1185,181 1185,201 1159,201 1159,210 1116,210"/>
<rect x="1088" y="189" width="30" height="11"/>
<rect x="1060" y="226" width="7.5" height="18.5"/>
<rect x="1044" y="244" width="40" height="18.5"/>
<rect x="1059.5" y="262.5" width="8.5" height="34.5"/>
<rect x="1059" y="296" width="10.5" height="21"/>
<polygon points="1010,305 1034,305 1034,389 1010,389 1000,376.5 1000,317.5"/>
<polygon points="1044,316 1135,316 1135,325 1100,325 1100,379 1044,379 1035,369 1035,326"/>
<circle cx="1107" cy="347.5" r="13"/>
<rect x="1061" y="379" width="10" height="17"/>
<rect x="1062" y="396" width="8" height="35"/>
<polygon points="1124,377 1128,370 1135,370 1135,377"/>
<polygon points="1145,302.5 1169,302.5 1169,391 1145,391 1136,379 1136,315"/>
<polygon points="1167.5,315 1190,315 1190,319 1197.5,319 1199,335 1199,360 1197.5,375 1190,375 1190,379 1167.5,379"/>
<rect x="1155" y="391" width="9" height="41"/>
<polygon points="1070,430 1084,430 1084,436 1096,436 1095,442 1084,445 1070,445"/>
<polygon points="1133,443 1138,435 1155,431 1174,431 1174,450 1147,450 1143,445 1133,445"/>
<rect x="1156" y="450" width="7.5" height="33"/>
<rect x="1029.3" y="455.6" width="15" height="4.4"/>
<rect x="1029.3" y="455.6" width="5.7" height="31.2"/>
<rect x="1029.3" y="480" width="33.1" height="6.8"/>
<rect x="1036" y="465" width="20.8" height="12.4"/>
<rect x="1056.8" y="458.7" width="11.9" height="21.3"/>
<rect x="1063.7" y="445" width="5" height="13.7"/>
<rect x="1065" y="463" width="23" height="48.8"/>
<rect x="1035.6" y="488" width="29.4" height="23.8"/>
<rect x="1028.7" y="498.7" width="7.3" height="13.1"/>
<rect x="1011" y="512.5" width="51" height="8.5"/>
<polygon points="1025,522.5 1078,522.5 1078,532 1085,536 1085,548 1080,555 1025,555"/>
<rect x="1011" y="512.5" width="14" height="47.5"/>
<rect x="1013" y="553" width="38" height="47"/>
<rect x="1013" y="600" width="45.7" height="10.6"/>
<rect x="1013" y="610" width="18" height="54"/>
<rect x="1009.4" y="615" width="3.6" height="11"/>
<rect x="1009.4" y="648" width="26.6" height="9"/>
<rect x="1035" y="553" width="129" height="7.5"/>
<polygon points="1156,482.4 1164.8,482.4 1164.8,502.4 1159.8,502.4 1159.8,507.4 1153.5,507.4 1151,513.6 1146.7,513.6 1146.7,522 1153.5,529 1153.5,551 1103.6,551 1103.6,528 1108.6,528 1108.6,522.5 1116.6,522.5 1116.6,528 1127.3,524.9 1128.6,510 1129.8,498.7 1134.8,496.2 1142.3,492.4 1151,488.7"/>
<polygon points="1122,553.7 1164,553.7 1164,570 1158.5,570 1158.5,595 1143,595 1136,600 1120,597 1120,575 1122,570"/>
<polygon points="1060,563.6 1094,563.6 1094,570 1107,575 1110,597.5 1070,597.5 1065,590 1065,572 1060,570"/>
<rect x="1080" y="597.5" width="5" height="8.1"/>
<rect x="1085" y="604" width="12.4" height="4.7"/>
<rect x="1092" y="608.7" width="5" height="7.3"/>
<polygon points="1089.7,616.4 1117,616.4 1124,620.5 1129,623.5 1133,626.3 1133,641 1112,641 1110,642 1100.7,642 1096,638 1092,628 1089.7,622"/></g><polyline points="168,106 186,86 222,86" fill="none" stroke-width="7"/><polyline points="122,148 103,167 103,289 122,308" fill="none" stroke-width="7"/><polyline points="166,349 187,369.5 222,369.5" fill="none" stroke-width="7"/><polyline points="371,154 384,167 384,196" fill="none" stroke-width="7"/><polyline points="384,258 384,289 371,302" fill="none" stroke-width="7"/><polyline points="906,208 906,262 921,283 921,323" fill="none" stroke-width="7"/><polyline points="897,372 897,429" fill="none" stroke-width="7.5"/></g>
<g><polyline points="102.4,97.4 91.2,84.3 101.8,75 114.9,85.5" fill="none" stroke="#dcdcdc" stroke-width="2.2"/>
<polyline points="109.3,68.7 119.9,79.3" fill="none" stroke="#d9d9d9" stroke-width="1.4"/>
<polyline points="85,93 95,103.6" fill="none" stroke="#d9d9d9" stroke-width="1.4"/>
<polygon points="106,72.5 109,69.5 118.5,79 115.5,82" fill="#4a4a4a"/>
<polygon points="88.5,90 85.5,93 94.5,102.5 97.5,99.5" fill="#4a4a4a"/>
<polyline points="134,121 149,136" fill="none" stroke="#d9d9d9" stroke-width="1.4"/>
<polyline points="140,115 154,129" fill="none" stroke="#d9d9d9" stroke-width="1.4"/>
<polygon points="137,120 141,116 150,125 146,129" fill="#4a4a4a"/>
<polyline points="152,143 164,155" fill="none" stroke="#d9d9d9" stroke-width="1.4"/>
<polyline points="158,137 170,149" fill="none" stroke="#d9d9d9" stroke-width="1.4"/>
<polygon points="157,143 161,139 168,146 164,150" fill="#4a4a4a"/>
<polyline points="102.4,358.6 91.2,371.7 101.8,381 114.9,370.5" fill="none" stroke="#dcdcdc" stroke-width="2.2"/>
<polyline points="109.3,387.3 119.9,376.7" fill="none" stroke="#d9d9d9" stroke-width="1.4"/>
<polyline points="85,363 95,352.4" fill="none" stroke="#d9d9d9" stroke-width="1.4"/>
<polygon points="106,383.5 109,386.5 118.5,377 115.5,374" fill="#4a4a4a"/>
<polygon points="88.5,366 85.5,363 94.5,353.5 97.5,356.5" fill="#4a4a4a"/>
<polyline points="134,335 149,320" fill="none" stroke="#d9d9d9" stroke-width="1.4"/>
<polyline points="140,341 154,327" fill="none" stroke="#d9d9d9" stroke-width="1.4"/>
<polygon points="137,336 141,340 150,331 146,327" fill="#4a4a4a"/>
<polyline points="152,313 164,301" fill="none" stroke="#d9d9d9" stroke-width="1.4"/>
<polyline points="158,319 170,307" fill="none" stroke="#d9d9d9" stroke-width="1.4"/>
<polygon points="157,313 161,317 168,310 164,306" fill="#4a4a4a"/>
<polyline points="252,81.5 266,81.5" fill="none" stroke="#d9d9d9" stroke-width="1.2"/>
<polyline points="252,91.5 266,91.5" fill="none" stroke="#d9d9d9" stroke-width="1.2"/>
<polyline points="257,70 257,81" fill="none" stroke="#bdbdbd" stroke-width="0.8"/>
<polyline points="257,92 257,103" fill="none" stroke="#bdbdbd" stroke-width="0.8"/>
<polyline points="43,199.5 53,199.5" fill="none" stroke="#d9d9d9" stroke-width="1.4"/>
<polyline points="62,199.5 72,199.5" fill="none" stroke="#d9d9d9" stroke-width="1.4"/>
<polyline points="53.5,193 53.5,206" fill="none" stroke="#d9d9d9" stroke-width="1.2"/>
<polyline points="61.5,193 61.5,206" fill="none" stroke="#d9d9d9" stroke-width="1.2"/>
<rect x="54.3" y="193.5" width="6.4" height="12" fill="#3c3c3c"/><rect x="54.3" y="193.5" width="6.4" height="12" fill="url(#sh)"/>
<polyline points="43,254.5 53,254.5" fill="none" stroke="#d9d9d9" stroke-width="1.4"/>
<polyline points="62,254.5 72,254.5" fill="none" stroke="#d9d9d9" stroke-width="1.4"/>
<polyline points="53.5,248 53.5,261" fill="none" stroke="#d9d9d9" stroke-width="1.2"/>
<polyline points="61.5,248 61.5,261" fill="none" stroke="#d9d9d9" stroke-width="1.2"/>
<rect x="54.3" y="248.5" width="6.4" height="12" fill="#3c3c3c"/><rect x="54.3" y="248.5" width="6.4" height="12" fill="url(#sh)"/>
<polyline points="144.5,199.5 154.5,199.5" fill="none" stroke="#d9d9d9" stroke-width="1.4"/>
<polyline points="163.5,199.5 173.5,199.5" fill="none" stroke="#d9d9d9" stroke-width="1.4"/>
<polyline points="155,193 155,206" fill="none" stroke="#d9d9d9" stroke-width="1.2"/>
<polyline points="163,193 163,206" fill="none" stroke="#d9d9d9" stroke-width="1.2"/>
<rect x="155.8" y="193.5" width="6.4" height="12" fill="#3c3c3c"/><rect x="155.8" y="193.5" width="6.4" height="12" fill="url(#sh)"/>
<polyline points="144.5,254.5 154.5,254.5" fill="none" stroke="#d9d9d9" stroke-width="1.4"/>
<polyline points="163.5,254.5 173.5,254.5" fill="none" stroke="#d9d9d9" stroke-width="1.4"/>
<polyline points="155,248 155,261" fill="none" stroke="#d9d9d9" stroke-width="1.2"/>
<polyline points="163,248 163,261" fill="none" stroke="#d9d9d9" stroke-width="1.2"/>
<rect x="155.8" y="248.5" width="6.4" height="12" fill="#3c3c3c"/><rect x="155.8" y="248.5" width="6.4" height="12" fill="url(#sh)"/>
<polyline points="310.5,199.5 320.5,199.5" fill="none" stroke="#d9d9d9" stroke-width="1.4"/>
<polyline points="329.5,199.5 339.5,199.5" fill="none" stroke="#d9d9d9" stroke-width="1.4"/>
<polyline points="321,193 321,206" fill="none" stroke="#d9d9d9" stroke-width="1.2"/>
<polyline points="329,193 329,206" fill="none" stroke="#d9d9d9" stroke-width="1.2"/>
<rect x="321.8" y="193.5" width="6.4" height="12" fill="#3c3c3c"/><rect x="321.8" y="193.5" width="6.4" height="12" fill="url(#sh)"/>
<polyline points="310.5,254.5 320.5,254.5" fill="none" stroke="#d9d9d9" stroke-width="1.4"/>
<polyline points="329.5,254.5 339.5,254.5" fill="none" stroke="#d9d9d9" stroke-width="1.4"/>
<polyline points="321,248 321,261" fill="none" stroke="#d9d9d9" stroke-width="1.2"/>
<polyline points="329,248 329,261" fill="none" stroke="#d9d9d9" stroke-width="1.2"/>
<rect x="321.8" y="248.5" width="6.4" height="12" fill="#3c3c3c"/><rect x="321.8" y="248.5" width="6.4" height="12" fill="url(#sh)"/>
<rect x="124" y="225" width="17" height="7" fill="#3c3c3c"/><rect x="124" y="225" width="17" height="7" fill="url(#sv)"/>
<polyline points="209,186 218.5,195.5" fill="none" stroke="#d9d9d9" stroke-width="1.5"/>
<polyline points="203,192 212.5,201.5" fill="none" stroke="#d9d9d9" stroke-width="1.5"/>
<polyline points="213.5,190.5 220,184" fill="none" stroke="#d9d9d9" stroke-width="1.3"/>
<polyline points="199,204.5 208,196" fill="none" stroke="#d9d9d9" stroke-width="1.3"/>
<polygon points="208.5,192.5 211.5,189.5 216.5,194.5 213.5,197.5" fill="#4a4a4a"/>
<polyline points="209,266.4 218.5,256.9" fill="none" stroke="#d9d9d9" stroke-width="1.5"/>
<polyline points="203,260.4 212.5,250.9" fill="none" stroke="#d9d9d9" stroke-width="1.5"/>
<polyline points="213.5,261.9 220,268.4" fill="none" stroke="#d9d9d9" stroke-width="1.3"/>
<polyline points="199,247.9 208,256.4" fill="none" stroke="#d9d9d9" stroke-width="1.3"/>
<polygon points="208.5,259.9 211.5,262.9 216.5,257.9 213.5,254.9" fill="#4a4a4a"/>
<polyline points="284,222 297,222" fill="none" stroke="#d9d9d9" stroke-width="1.6"/>
<polyline points="284,230.5 297,230.5" fill="none" stroke="#d9d9d9" stroke-width="1.6"/>
<rect x="284" y="223.5" width="9" height="5.5" fill="#3c3c3c"/><rect x="284" y="223.5" width="9" height="5.5" fill="url(#sv)"/>
<polyline points="291,210 291,221" fill="none" stroke="#cfcfcf" stroke-width="1.2"/>
<polyline points="291,231.5 291,242" fill="none" stroke="#cfcfcf" stroke-width="1.2"/>
<circle cx="243.7" cy="226.2" r="31.8" fill="none" stroke="#808080" stroke-width="1.3"/>
<circle cx="243.7" cy="226.2" r="15.6" fill="none" stroke="#858585" stroke-width="1.3"/>
<circle cx="243.7" cy="226.2" r="9.4" fill="none" stroke="#858585" stroke-width="1.3"/>
<rect x="236.5" y="300" width="13" height="15" fill="#3c3c3c"/><rect x="236.5" y="300" width="13" height="15" fill="url(#sh)"/>
<polyline points="258,351 258,386" fill="none" stroke="#bdbdbd" stroke-width="0.8"/>
<rect x="343" y="203" width="26" height="4.5" fill="#3c3c3c"/><rect x="343" y="203" width="26" height="4.5" fill="url(#sv)"/>
<rect x="343" y="246.5" width="26" height="5" fill="#3c3c3c"/><rect x="343" y="246.5" width="26" height="5" fill="url(#sv)"/>
<polyline points="352,221.5 365,221.5" fill="none" stroke="#d9d9d9" stroke-width="1.3"/>
<polyline points="352,230.5 365,230.5" fill="none" stroke="#d9d9d9" stroke-width="1.3"/>
<polyline points="380,221.5 396,221.5" fill="none" stroke="#d9d9d9" stroke-width="1.3"/>
<polyline points="380,231 396,231" fill="none" stroke="#d9d9d9" stroke-width="1.3"/>
<polyline points="435,209.5 450,209.5" fill="none" stroke="#d9d9d9" stroke-width="1.3"/>
<polyline points="435,244.5 450,244.5" fill="none" stroke="#d9d9d9" stroke-width="1.3"/>
<polyline points="436,218 451,218 451,236 436,236" fill="none" stroke="#d9d9d9" stroke-width="1.3"/>
<rect x="437" y="238" width="12" height="5" fill="#3c3c3c"/><rect x="437" y="238" width="12" height="5" fill="url(#sv)"/>
<rect x="447" y="155" width="7" height="11" fill="#3c3c3c"/><rect x="447" y="155" width="7" height="11" fill="url(#sh)"/>
<rect x="449.5" y="305" width="12.5" height="19" fill="#3c3c3c"/><rect x="449.5" y="305" width="12.5" height="19" fill="url(#sh)"/>
<rect x="448.5" y="366" width="13.5" height="41" fill="#3c3c3c"/><rect x="448.5" y="366" width="13.5" height="41" fill="url(#sh)"/>
<polyline points="496,265.5 510,265.5" fill="none" stroke="#d9d9d9" stroke-width="1.3"/>
<polyline points="521,265.5 535,265.5" fill="none" stroke="#d9d9d9" stroke-width="1.3"/>
<polyline points="510.5,265 510.5,276" fill="none" stroke="#d9d9d9" stroke-width="1.2"/>
<polyline points="520.5,265 520.5,276" fill="none" stroke="#d9d9d9" stroke-width="1.2"/>
<rect x="511.5" y="265" width="8" height="11" fill="#3c3c3c"/><rect x="511.5" y="265" width="8" height="11" fill="url(#sh)"/>
<polyline points="340,118 350,128" fill="none" stroke="#d9d9d9" stroke-width="1.4"/>
<polyline points="334,124 344,134" fill="none" stroke="#d9d9d9" stroke-width="1.4"/>
<polyline points="347,125.5 354.5,117" fill="none" stroke="#d9d9d9" stroke-width="1.2"/>
<polyline points="340,338 350,328" fill="none" stroke="#d9d9d9" stroke-width="1.4"/>
<polyline points="334,332 344,322" fill="none" stroke="#d9d9d9" stroke-width="1.4"/>
<polyline points="347,330.5 354.5,339" fill="none" stroke="#d9d9d9" stroke-width="1.2"/>
<polyline points="214,460.5 238,460.5" fill="none" stroke="#d9d9d9" stroke-width="1.3"/>
<polyline points="248,460.5 273,460.5" fill="none" stroke="#d9d9d9" stroke-width="1.3"/>
<rect x="225" y="473" width="36" height="36" fill="none" stroke="#4c4c4c" stroke-width="1"/>
<circle cx="242.5" cy="490.5" r="10.3" fill="#dedede" stroke="#f2f2f2" stroke-width="0.8"/>
<rect x="236.5" y="519" width="13.5" height="17" fill="#3c3c3c"/><rect x="236.5" y="519" width="13.5" height="17" fill="url(#sh)"/>
<rect x="196" y="560" width="8" height="7" fill="#3c3c3c"/><rect x="196" y="560" width="8" height="7" fill="url(#sv)"/>
<rect x="237" y="588" width="15" height="17" fill="#3c3c3c"/><rect x="237" y="588" width="15" height="17" fill="url(#sh)"/>
<polyline points="281,571 290,571" fill="none" stroke="#d9d9d9" stroke-width="1.2"/>
<polyline points="281,582 290,582" fill="none" stroke="#d9d9d9" stroke-width="1.2"/>
<rect x="281" y="573" width="9" height="7" fill="#3c3c3c"/><rect x="281" y="573" width="9" height="7" fill="url(#sv)"/>
<rect x="268" y="608.5" width="12" height="7" fill="#3c3c3c"/><rect x="268" y="608.5" width="12" height="7" fill="url(#sv)"/>
<rect x="209" y="650.5" width="11" height="6" fill="#3c3c3c"/><rect x="209" y="650.5" width="11" height="6" fill="url(#sv)"/>
<rect x="268" y="650.5" width="12" height="6" fill="#3c3c3c"/><rect x="268" y="650.5" width="12" height="6" fill="url(#sv)"/>
<polygon points="413.5,471 436,471 442,477 442,498.5 436,504.5 413.5,504.5 407.5,498.5 407.5,477" fill="none" stroke="#6a6a6a" stroke-width="0.8"/>
<polygon points="417,478 432.5,478 436,481.5 436,494 432.5,497.5 417,497.5 413.5,494 413.5,481.5" fill="none" stroke="#6a6a6a" stroke-width="0.8"/>
<rect x="450" y="463" width="11" height="14" fill="#3c3c3c"/><rect x="450" y="463" width="11" height="14" fill="url(#sh)"/>
<rect x="450" y="498" width="11" height="15" fill="#3c3c3c"/><rect x="450" y="498" width="11" height="15" fill="url(#sh)"/>
<rect x="465" y="483.5" width="26" height="8" fill="#3c3c3c"/><rect x="465" y="483.5" width="26" height="8" fill="url(#sv)"/>
<polyline points="465,482.5 491,482.5" fill="none" stroke="#d9d9d9" stroke-width="1.2"/>
<polyline points="465,492.5 491,492.5" fill="none" stroke="#d9d9d9" stroke-width="1.2"/>
<rect x="574.5" y="451" width="6.4" height="12.5" fill="#3c3c3c"/><rect x="574.5" y="451" width="6.4" height="12.5" fill="url(#sh)"/>
<rect x="574.5" y="511.5" width="6.4" height="12.5" fill="#3c3c3c"/><rect x="574.5" y="511.5" width="6.4" height="12.5" fill="url(#sh)"/>
<rect x="617.2" y="451" width="6.4" height="12.5" fill="#3c3c3c"/><rect x="617.2" y="451" width="6.4" height="12.5" fill="url(#sh)"/>
<rect x="617.2" y="511.5" width="6.4" height="12.5" fill="#3c3c3c"/><rect x="617.2" y="511.5" width="6.4" height="12.5" fill="url(#sh)"/>
<path d="M-3,0 H3 M0.6,-2.4 L3,0 L0.6,2.4" fill="none" stroke="#8c8c8c" stroke-width="0.9" transform="translate(273,86.5) rotate(0)"/>
<path d="M-3,0 H3 M0.6,-2.4 L3,0 L0.6,2.4" fill="none" stroke="#8c8c8c" stroke-width="0.9" transform="translate(172.5,153.5) rotate(45)"/>
<path d="M-3,0 H3 M0.6,-2.4 L3,0 L0.6,2.4" fill="none" stroke="#8c8c8c" stroke-width="0.9" transform="translate(172.5,302.5) rotate(-45)"/>
<path d="M-3,0 H3 M0.6,-2.4 L3,0 L0.6,2.4" fill="none" stroke="#8c8c8c" stroke-width="0.9" transform="translate(201.5,184) rotate(-135)"/>
<path d="M-3,0 H3 M0.6,-2.4 L3,0 L0.6,2.4" fill="none" stroke="#8c8c8c" stroke-width="0.9" transform="translate(201.5,268.5) rotate(135)"/>
<path d="M-3,0 H3 M0.6,-2.4 L3,0 L0.6,2.4" fill="none" stroke="#8c8c8c" stroke-width="0.9" transform="translate(302,226.2) rotate(0)"/>
<path d="M-3,0 H3 M0.6,-2.4 L3,0 L0.6,2.4" fill="none" stroke="#8c8c8c" stroke-width="0.9" transform="translate(347,226.2) rotate(180)"/>
<path d="M-3,0 H3 M0.6,-2.4 L3,0 L0.6,2.4" fill="none" stroke="#8c8c8c" stroke-width="0.9" transform="translate(332,116) rotate(-135)"/>
<path d="M-3,0 H3 M0.6,-2.4 L3,0 L0.6,2.4" fill="none" stroke="#8c8c8c" stroke-width="0.9" transform="translate(332,340) rotate(135)"/>
<path d="M-3,0 H3 M0.6,-2.4 L3,0 L0.6,2.4" fill="none" stroke="#8c8c8c" stroke-width="0.9" transform="translate(272.5,369.5) rotate(0)"/>
<path d="M-3,0 H3 M0.6,-2.4 L3,0 L0.6,2.4" fill="none" stroke="#8c8c8c" stroke-width="0.9" transform="translate(455,368.5) rotate(-90)"/>
<polyline points="825.5,87 825.5,131" fill="none" stroke="#d9d9d9" stroke-width="1"/>
<polyline points="817.4,131 817.4,150.5 856,150.5" fill="none" stroke="#d9d9d9" stroke-width="1.2"/>
<polyline points="838,150.5 838,183" fill="none" stroke="#d9d9d9" stroke-width="1.1"/>
<polyline points="850,150.5 850,183" fill="none" stroke="#d9d9d9" stroke-width="1.1"/>
<rect x="839" y="152" width="10" height="30" fill="#3c3c3c"/><rect x="839" y="152" width="10" height="30" fill="url(#sh)"/>
<polyline points="851,182 865,182" fill="none" stroke="#d9d9d9" stroke-width="1"/>
<polyline points="863,152 863,182" fill="none" stroke="#cfcfcf" stroke-width="1.4"/>
<polyline points="852,162.5 866,162.5" fill="none" stroke="#d9d9d9" stroke-width="1"/>
<polyline points="852,170 866,170" fill="none" stroke="#d9d9d9" stroke-width="1"/>
<polyline points="819.5,98 819.5,131" fill="none" stroke="#9a9a9a" stroke-width="1.6"/>
<polyline points="867.5,88 867.5,110" fill="none" stroke="#bdbdbd" stroke-width="1"/>
<polyline points="866.7,193.7 886.7,193.7" fill="none" stroke="#d9d9d9" stroke-width="1.2"/>
<polyline points="866.7,205 886.7,205" fill="none" stroke="#d9d9d9" stroke-width="1.2"/>
<rect x="867" y="195" width="19" height="9" fill="#3c3c3c"/><rect x="867" y="195" width="19" height="9" fill="url(#sv)"/>
<rect x="825.5" y="232" width="9" height="15" fill="#3c3c3c"/><rect x="825.5" y="232" width="9" height="15" fill="url(#sh)"/>
<rect x="742" y="339.5" width="17" height="12.5" fill="#3c3c3c"/><rect x="742" y="339.5" width="17" height="12.5" fill="url(#sv)"/>
<rect x="781" y="339.5" width="19" height="12.5" fill="#3c3c3c"/><rect x="781" y="339.5" width="19" height="12.5" fill="url(#sv)"/>
<polyline points="833,449 833,493" fill="none" stroke="#c4c4c4" stroke-width="1.2"/>
<rect x="848" y="324" width="27" height="5.5" fill="#3c3c3c"/><rect x="848" y="324" width="27" height="5.5" fill="url(#sv)"/>
<rect x="846" y="361.5" width="29" height="6" fill="#3c3c3c"/><rect x="846" y="361.5" width="29" height="6" fill="url(#sv)"/>
<polyline points="871.5,337 871.5,358" fill="none" stroke="#bdbdbd" stroke-width="1"/>
<rect x="872.4" y="570" width="10" height="11" fill="#3c3c3c"/><rect x="872.4" y="570" width="10" height="11" fill="url(#sh)"/>
<polyline points="883.5,570 883.5,615" fill="none" stroke="#c4c4c4" stroke-width="1.2"/>
<polyline points="836,492.5 840,492.5" fill="none" stroke="#d9d9d9" stroke-width="1"/>
<rect x="1062.5" y="165" width="8" height="12" fill="#3c3c3c"/><rect x="1062.5" y="165" width="8" height="12" fill="url(#sh)"/>
<polyline points="1062,168 1071,168" fill="none" stroke="#d9d9d9" stroke-width="0.8"/>
<polyline points="1062,172 1071,172" fill="none" stroke="#d9d9d9" stroke-width="0.8"/>
<polyline points="1155,130 1190,130" fill="none" stroke="#d9d9d9" stroke-width="1.4"/>
<polyline points="1155,112 1155,130" fill="none" stroke="#d9d9d9" stroke-width="1.2"/>
<polyline points="1160,118 1175,118" fill="none" stroke="#d9d9d9" stroke-width="1.2"/>
<polyline points="1160,118 1160,130" fill="none" stroke="#d9d9d9" stroke-width="1.2"/>
<polyline points="1147,172 1174,172" fill="none" stroke="#d9d9d9" stroke-width="1.2"/>
<polyline points="1122,179.3 1174,179.3" fill="none" stroke="#d9d9d9" stroke-width="1.2"/>
<rect x="1148" y="173" width="25" height="5.5" fill="#3c3c3c"/><rect x="1148" y="173" width="25" height="5.5" fill="url(#sv)"/>
<rect x="1060.3" y="227" width="6.9" height="17" fill="#3c3c3c"/><rect x="1060.3" y="227" width="6.9" height="17" fill="url(#sh)"/>
<rect x="1060" y="263" width="7.5" height="33" fill="#3c3c3c"/><rect x="1060" y="263" width="7.5" height="33" fill="url(#sh)"/>
<polyline points="1019,333.5 1034,333.5" fill="none" stroke="#e0e0e0" stroke-width="2.6"/>
<polyline points="1019,358.5 1034,358.5" fill="none" stroke="#e0e0e0" stroke-width="2.6"/>
<polyline points="1031,320 1034,320 1034,330" fill="none" stroke="#cfcfcf" stroke-width="1.2"/>
<polyline points="1031,372 1034,372 1034,360" fill="none" stroke="#cfcfcf" stroke-width="1.2"/>
<path d="M1101,331 H1108 A16.5,16.5 0 0 1 1108,364 H1101" fill="none" stroke="#d0d0d0" stroke-width="1"/>
<rect x="1062.5" y="397" width="7" height="33" fill="#3c3c3c"/><rect x="1062.5" y="397" width="7" height="33" fill="url(#sh)"/>
<polyline points="1167,313 1167,380" fill="none" stroke="#bdbdbd" stroke-width="1"/>
<polyline points="1152,343.5 1166,343.5" fill="none" stroke="#d9d9d9" stroke-width="1.2"/>
<polyline points="1152,352.5 1166,352.5" fill="none" stroke="#d9d9d9" stroke-width="1.2"/>
<rect x="1153" y="344.5" width="13" height="7" fill="#3c3c3c"/><rect x="1153" y="344.5" width="13" height="7" fill="url(#sv)"/>
<rect x="1155.5" y="392" width="8" height="39" fill="#3c3c3c"/><rect x="1155.5" y="392" width="8" height="39" fill="url(#sh)"/>
<rect x="1156.5" y="451" width="6.5" height="31" fill="#3c3c3c"/><rect x="1156.5" y="451" width="6.5" height="31" fill="url(#sh)"/>
<polyline points="1036,465 1036,478.5 1056,478.5" fill="none" stroke="#d9d9d9" stroke-width="1.2"/>
<polyline points="1029,511.5 1050,511.5" fill="none" stroke="#d9d9d9" stroke-width="1.2"/>
<polyline points="1029,521.5 1050,521.5" fill="none" stroke="#d9d9d9" stroke-width="1.2"/>
<polyline points="1134,551.5 1148,551.5" fill="none" stroke="#d9d9d9" stroke-width="1.2"/>
<polyline points="1134,561 1148,561" fill="none" stroke="#d9d9d9" stroke-width="1.2"/>
<rect x="1135" y="552.5" width="12" height="7.5" fill="#3c3c3c"/><rect x="1135" y="552.5" width="12" height="7.5" fill="url(#sv)"/>
<path d="M-3,0 H3 M0.6,-2.4 L3,0 L0.6,2.4" fill="none" stroke="#8c8c8c" stroke-width="0.9" transform="translate(940.5,92) rotate(0)"/>
<path d="M-3,0 H3 M0.6,-2.4 L3,0 L0.6,2.4" fill="none" stroke="#8c8c8c" stroke-width="0.9" transform="translate(1052.5,56) rotate(180)"/>
<path d="M-3,0 H3 M0.6,-2.4 L3,0 L0.6,2.4" fill="none" stroke="#8c8c8c" stroke-width="0.9" transform="translate(912,200) rotate(0)"/>
<path d="M-3,0 H3 M0.6,-2.4 L3,0 L0.6,2.4" fill="none" stroke="#8c8c8c" stroke-width="0.9" transform="translate(933,475.5) rotate(0)"/>
<path d="M-3,0 H3 M0.6,-2.4 L3,0 L0.6,2.4" fill="none" stroke="#8c8c8c" stroke-width="0.9" transform="translate(933,569.3) rotate(0)"/>
<path d="M-3,0 H3 M0.6,-2.4 L3,0 L0.6,2.4" fill="none" stroke="#8c8c8c" stroke-width="0.9" transform="translate(1037.5,156) rotate(180)"/>
<path d="M-3,0 H3 M0.6,-2.4 L3,0 L0.6,2.4" fill="none" stroke="#8c8c8c" stroke-width="0.9" transform="translate(969.5,156) rotate(180)"/>
<path d="M-3,0 H3 M0.6,-2.4 L3,0 L0.6,2.4" fill="none" stroke="#8c8c8c" stroke-width="0.9" transform="translate(979.5,156) rotate(0)"/>
<path d="M-3,0 H3 M0.6,-2.4 L3,0 L0.6,2.4" fill="none" stroke="#8c8c8c" stroke-width="0.9" transform="translate(1029.5,347.5) rotate(0)"/>
<path d="M-3,0 H3 M0.6,-2.4 L3,0 L0.6,2.4" fill="none" stroke="#8c8c8c" stroke-width="0.9" transform="translate(1040,347.5) rotate(180)"/>
<path d="M-3,0 H3 M0.6,-2.4 L3,0 L0.6,2.4" fill="none" stroke="#8c8c8c" stroke-width="0.9" transform="translate(1017,566) rotate(180)"/>
<path d="M-3,0 H3 M0.6,-2.4 L3,0 L0.6,2.4" fill="none" stroke="#8c8c8c" stroke-width="0.9" transform="translate(1017,573) rotate(0)"/>
<path d="M-3,0 H3 M0.6,-2.4 L3,0 L0.6,2.4" fill="none" stroke="#8c8c8c" stroke-width="0.9" transform="translate(920.5,657.5) rotate(-90)"/>
<path d="M-3,0 H3 M0.6,-2.4 L3,0 L0.6,2.4" fill="none" stroke="#8c8c8c" stroke-width="0.9" transform="translate(921.5,665) rotate(0)"/>
<path d="M-3,0 H3 M0.6,-2.4 L3,0 L0.6,2.4" fill="none" stroke="#8c8c8c" stroke-width="0.9" transform="translate(1057,650) rotate(-90)"/>
<path d="M-3,0 H3 M0.6,-2.4 L3,0 L0.6,2.4" fill="none" stroke="#8c8c8c" stroke-width="0.9" transform="translate(1050.5,653) rotate(180)"/>
<path d="M-3,0 H3 M0.6,-2.4 L3,0 L0.6,2.4" fill="none" stroke="#8c8c8c" stroke-width="0.9" transform="translate(873.5,347.5) rotate(0)"/>
<path d="M-3,0 H3 M0.6,-2.4 L3,0 L0.6,2.4" fill="none" stroke="#8c8c8c" stroke-width="0.9" transform="translate(879,347.5) rotate(180)"/></g>
<g fill="none" stroke="#9a9a9a" stroke-width="1.9" stroke-dasharray="0.1 3.7" stroke-linecap="round"><path d="M282,86.5 A80,80 0 0 1 326,109"/>
<path d="M326,347 A80,80 0 0 1 283,369.5"/>
<path d="M178,160 L194,176"/>
<path d="M178,296 L194,277"/>
<path d="M320,226 L340,226"/>
<path d="M947,88 Q980,58 1044,56"/>
<path d="M918,199 Q948,195 956,168"/>
<path d="M990,156 H1030"/>
<path d="M938,475 Q975,462 1025,460"/>
<path d="M938,569.3 H1010"/>
<path d="M940,571 Q953,612 920,648"/>
<path d="M927,664 C960,682 1010,690 1043,660"/>
<path d="M1019,570 L1053,607 L1057.4,650"/></g>
<g><polyline points="135,147.5 166,116 166,107.5 186,87 270.5,87" fill="none" stroke="#57531c" stroke-width="3.5" stroke-linejoin="round"/>
<polyline points="135,147.5 166,116 166,107.5 186,87 270.5,87" fill="none" stroke="#f8f02c" stroke-width="2.7" stroke-linejoin="round"/>
<polygon points="276,87 267.5,90.9 270,87 267.5,83.1" fill="#f8ef2c" stroke="#6b6620" stroke-width="0.5" stroke-linejoin="round"/>
<polyline points="121,151 103,168 103,288 122,307 135,317 150,317 156,324 156,337.5 187.5,369 227.5,369" fill="none" stroke="#57531c" stroke-width="3.5" stroke-linejoin="round"/>
<polyline points="121,151 103,168 103,288 122,307 135,317 150,317 156,324 156,337.5 187.5,369 227.5,369" fill="none" stroke="#f8f02c" stroke-width="2.7" stroke-linejoin="round"/>
<polygon points="233,369 224.5,372.9 227,369 224.5,365.1" fill="#f8ef2c" stroke="#6b6620" stroke-width="0.5" stroke-linejoin="round"/>
<polyline points="101,228 64.5,228" fill="none" stroke="#57531c" stroke-width="3" stroke-linejoin="round" stroke-dasharray="5.2 3.2"/>
<polyline points="101,228 64.5,228" fill="none" stroke="#f8f02c" stroke-width="2.7" stroke-linejoin="round" stroke-dasharray="5.2 3.2"/>
<polygon points="59,228 67.5,224.1 65,228 67.5,231.9" fill="#f8ef2c" stroke="#6b6620" stroke-width="0.5" stroke-linejoin="round"/>
<polyline points="334,117 384,167 384,210 372.5,220 380,227 408,227" fill="none" stroke="#57531c" stroke-width="3.5" stroke-linejoin="round"/>
<polyline points="334,117 384,167 384,210 372.5,220 380,227 408,227" fill="none" stroke="#f8f02c" stroke-width="2.7" stroke-linejoin="round"/>
<polygon points="413.5,227 405,230.9 407.5,227 405,223.1" fill="#f8ef2c" stroke="#6b6620" stroke-width="0.5" stroke-linejoin="round"/>
<polyline points="417.5,227.5 431,213.7 458.7,213.7 472.5,227 500,227 521.1,206.3" fill="none" stroke="#57531c" stroke-width="3.5" stroke-linejoin="round"/>
<polyline points="417.5,227.5 431,213.7 458.7,213.7 472.5,227 500,227 521.1,206.3" fill="none" stroke="#f8f02c" stroke-width="2.7" stroke-linejoin="round"/>
<polygon points="525,202.5 521.7,211.2 520.7,206.7 516.2,205.7" fill="#f8ef2c" stroke="#6b6620" stroke-width="0.5" stroke-linejoin="round"/>
<polyline points="350,576.7 270,576.7 243.7,550 243.7,514.5" fill="none" stroke="#57531c" stroke-width="3.5" stroke-linejoin="round"/>
<polyline points="350,576.7 270,576.7 243.7,550 243.7,514.5" fill="none" stroke="#f8f02c" stroke-width="2.7" stroke-linejoin="round"/>
<polygon points="243.7,509 247.6,517.5 243.7,515 239.8,517.5" fill="#f8ef2c" stroke="#6b6620" stroke-width="0.5" stroke-linejoin="round"/>
<polyline points="243.7,555 243.7,600.5" fill="none" stroke="#57531c" stroke-width="3" stroke-linejoin="round" stroke-dasharray="5.2 3.2"/>
<polyline points="243.7,555 243.7,600.5" fill="none" stroke="#f8f02c" stroke-width="2.7" stroke-linejoin="round" stroke-dasharray="5.2 3.2"/>
<polygon points="243.7,606 239.8,597.5 243.7,600 247.6,597.5" fill="#f8ef2c" stroke="#6b6620" stroke-width="0.5" stroke-linejoin="round"/>
<polyline points="246,505 232.5,505 218.7,492 146.5,492" fill="none" stroke="#57531c" stroke-width="3.5" stroke-linejoin="round"/>
<polyline points="246,505 232.5,505 218.7,492 146.5,492" fill="none" stroke="#f8f02c" stroke-width="2.7" stroke-linejoin="round"/>
<polygon points="141,492 149.5,488.1 147,492 149.5,495.9" fill="#f8ef2c" stroke="#6b6620" stroke-width="0.5" stroke-linejoin="round"/>
<polyline points="812.4,92.5 821.8,92.5 821.8,134.3 837.4,134.3 845.5,126 845.5,113.5" fill="none" stroke="#57531c" stroke-width="3.5" stroke-linejoin="round"/>
<polyline points="812.4,92.5 821.8,92.5 821.8,134.3 837.4,134.3 845.5,126 845.5,113.5" fill="none" stroke="#f8f02c" stroke-width="2.7" stroke-linejoin="round"/>
<polygon points="845.5,108 849.4,116.5 845.5,114 841.6,116.5" fill="#f8ef2c" stroke="#6b6620" stroke-width="0.5" stroke-linejoin="round"/>
<polyline points="806.8,100 806.8,151 821.8,166 838,166" fill="none" stroke="#57531c" stroke-width="3.5" stroke-linejoin="round"/>
<polyline points="806.8,100 806.8,151 821.8,166 838,166" fill="none" stroke="#f8f02c" stroke-width="2.7" stroke-linejoin="round"/>
<polyline points="851,166 875.5,166 875.5,180" fill="none" stroke="#57531c" stroke-width="3.5" stroke-linejoin="round"/>
<polyline points="851,166 875.5,166 875.5,180" fill="none" stroke="#f8f02c" stroke-width="2.7" stroke-linejoin="round"/>
<polyline points="881,186 893,186 893,198.7 906,211.8 906,262 921,283 921,343 897,365.5 850.5,365.5" fill="none" stroke="#57531c" stroke-width="3.5" stroke-linejoin="round"/>
<polyline points="881,186 893,186 893,198.7 906,211.8 906,262 921,283 921,343 897,365.5 850.5,365.5" fill="none" stroke="#f8f02c" stroke-width="2.7" stroke-linejoin="round"/>
<polygon points="845,365.5 853.5,361.6 851,365.5 853.5,369.4" fill="#f8ef2c" stroke="#6b6620" stroke-width="0.5" stroke-linejoin="round"/>
<polyline points="897,365.5 897,387.5" fill="none" stroke="#57531c" stroke-width="3.5" stroke-linejoin="round"/>
<polyline points="897,365.5 897,387.5" fill="none" stroke="#f8f02c" stroke-width="2.7" stroke-linejoin="round"/>
<polygon points="897,393 893.1,384.5 897,387 900.9,384.5" fill="#f8ef2c" stroke="#6b6620" stroke-width="0.5" stroke-linejoin="round"/>
<polyline points="897,410 897,461 883.7,474 843.7,474 843.7,595.5 851,602.3" fill="none" stroke="#57531c" stroke-width="3.5" stroke-linejoin="round"/>
<polyline points="897,410 897,461 883.7,474 843.7,474 843.7,595.5 851,602.3" fill="none" stroke="#f8f02c" stroke-width="2.7" stroke-linejoin="round"/>
<polygon points="855,606 846.1,603.1 850.6,601.9 851.4,597.4" fill="#f8ef2c" stroke="#6b6620" stroke-width="0.5" stroke-linejoin="round"/>
<polyline points="1068.7,251 1063.7,246 1063.7,208.7 1067,205 1067,195 1125.5,195" fill="none" stroke="#57531c" stroke-width="3.5" stroke-linejoin="round"/>
<polyline points="1068.7,251 1063.7,246 1063.7,208.7 1067,205 1067,195 1125.5,195" fill="none" stroke="#f8f02c" stroke-width="2.7" stroke-linejoin="round"/>
<polygon points="1131,195 1122.5,198.9 1125,195 1122.5,191.1" fill="#f8ef2c" stroke="#6b6620" stroke-width="0.5" stroke-linejoin="round"/>
<polyline points="1067.5,193 1067.5,151 1077.5,141 1103.7,141 1103.7,104.5" fill="none" stroke="#57531c" stroke-width="3" stroke-linejoin="round" stroke-dasharray="5.2 3.2"/>
<polyline points="1067.5,193 1067.5,151 1077.5,141 1103.7,141 1103.7,104.5" fill="none" stroke="#f8f02c" stroke-width="2.7" stroke-linejoin="round" stroke-dasharray="5.2 3.2"/>
<polygon points="1103.7,99 1107.6,107.5 1103.7,105 1099.8,107.5" fill="#f8ef2c" stroke="#6b6620" stroke-width="0.5" stroke-linejoin="round"/>
<polyline points="1040.6,460.6 1031.8,460.6 1031.8,483.7 1055,483.7 1055,509.5" fill="none" stroke="#57531c" stroke-width="3.5" stroke-linejoin="round"/>
<polyline points="1040.6,460.6 1031.8,460.6 1031.8,483.7 1055,483.7 1055,509.5" fill="none" stroke="#f8f02c" stroke-width="2.7" stroke-linejoin="round"/>
<polygon points="1055,515 1051.1,506.5 1055,509 1058.9,506.5" fill="#f8ef2c" stroke="#6b6620" stroke-width="0.5" stroke-linejoin="round"/>
<polyline points="1056.8,517.5 1023.7,517.5 1023.7,540 1032.9,549.1" fill="none" stroke="#57531c" stroke-width="3.5" stroke-linejoin="round"/>
<polyline points="1056.8,517.5 1023.7,517.5 1023.7,540 1032.9,549.1" fill="none" stroke="#f8f02c" stroke-width="2.7" stroke-linejoin="round"/>
<polygon points="1036.8,553 1028,549.8 1032.5,548.8 1033.5,544.2" fill="#f8ef2c" stroke="#6b6620" stroke-width="0.5" stroke-linejoin="round"/>
<polyline points="1036.2,557.2 1114.8,557.2 1114.8,545.5" fill="none" stroke="#57531c" stroke-width="3.5" stroke-linejoin="round"/>
<polyline points="1036.2,557.2 1114.8,557.2 1114.8,545.5" fill="none" stroke="#f8f02c" stroke-width="2.7" stroke-linejoin="round"/>
<polygon points="1114.8,540 1118.7,548.5 1114.8,546 1110.9,548.5" fill="#f8ef2c" stroke="#6b6620" stroke-width="0.5" stroke-linejoin="round"/></g>
<g opacity="0.999"><rect x="237" y="5" width="100.5" height="19.3" fill="#4a1c1c"/><rect x="337.5" y="5" width="71" height="19.3" fill="#ddd5d3"/>
<text x="288.2" y="19.8" font-size="13" fill="#fff" class="tt" font-weight="500" letter-spacing="1.2">太卜司</text><text x="373.8" y="19.8" font-size="13" fill="#4a1c1c" class="tt" font-weight="500" letter-spacing="1.8">18波</text>
<rect x="913" y="5" width="100" height="19.3" fill="#4a1c1c"/><rect x="1013" y="5" width="71.3" height="19.3" fill="#ddd5d3"/>
<text x="963.8" y="19.8" font-size="13" fill="#fff" class="tt" font-weight="500" letter-spacing="1.2">工造司</text><text x="1049" y="19.8" font-size="13" fill="#4a1c1c" class="tt" font-weight="500" letter-spacing="1.8">24波</text></g>
<g opacity="0.999"><g><circle cx="63.7" cy="95" r="5.4" fill="#cd8d5c" stroke="#fff" stroke-width="1.3"/><text x="63.7" y="98.06" font-size="8.5" class="mt">B</text></g>
<g><circle cx="150" cy="113.7" r="5.4" fill="#d65ae2" stroke="#fff" stroke-width="1.3"/><text x="150" y="116.76" font-size="8.5" class="mt">R</text></g>
<g><circle cx="46.7" cy="208" r="5.4" fill="#cd8d5c" stroke="#fff" stroke-width="1.3"/><text x="46.7" y="211.06" font-size="8.5" class="mt">B</text></g>
<g><circle cx="70" cy="209" r="5.4" fill="#f0434f" stroke="#fff" stroke-width="1.3"/><text x="70" y="212.06" font-size="8.5" class="mt">1</text></g>
<g><circle cx="48" cy="232.5" r="5.4" fill="#f0434f" stroke="#fff" stroke-width="1.3"/><text x="48" y="235.56" font-size="8.5" class="mt">1</text></g>
<g><circle cx="96" cy="241" r="5.4" fill="#f0434f" stroke="#fff" stroke-width="1.3"/><text x="96" y="244.06" font-size="8.5" class="mt">1</text></g>
<g><circle cx="119" cy="211" r="5.4" fill="#f0434f" stroke="#fff" stroke-width="1.3"/><text x="119" y="214.06" font-size="8.5" class="mt">1</text></g>
<g><circle cx="117.5" cy="241" r="5.4" fill="#d65ae2" stroke="#fff" stroke-width="1.3"/><text x="117.5" y="244.06" font-size="8.5" class="mt">R</text></g>
<g><circle cx="140" cy="308" r="5.4" fill="#cd8d5c" stroke="#fff" stroke-width="1.3"/><text x="140" y="311.06" font-size="8.5" class="mt">B</text></g>
<g><circle cx="230.5" cy="325" r="5.4" fill="#d65ae2" stroke="#fff" stroke-width="1.3"/><text x="230.5" y="328.06" font-size="8.5" class="mt">R</text></g>
<g><circle cx="315" cy="225" r="5.4" fill="#d65ae2" stroke="#fff" stroke-width="1.3"/><text x="315" y="228.06" font-size="8.5" class="mt">R</text></g>
<g><circle cx="238.7" cy="369.5" r="5.4" fill="#f0434f" stroke="#fff" stroke-width="1.3"/><text x="238.7" y="372.56" font-size="8.5" class="mt">1</text></g>
<g><circle cx="252" cy="381.5" r="5.4" fill="#cd8d5c" stroke="#fff" stroke-width="1.3"/><text x="252" y="384.56" font-size="8.5" class="mt">B</text></g>
<g><circle cx="266.7" cy="437" r="5.4" fill="#cd8d5c" stroke="#fff" stroke-width="1.3"/><text x="266.7" y="440.06" font-size="8.5" class="mt">B</text></g>
<g><circle cx="129.5" cy="487.5" r="5.4" fill="#f0434f" stroke="#fff" stroke-width="1.3"/><text x="129.5" y="490.56" font-size="8.5" class="mt">1</text></g>
<g><circle cx="114.5" cy="500.5" r="5.4" fill="#cd8d5c" stroke="#fff" stroke-width="1.3"/><text x="114.5" y="503.56" font-size="8.5" class="mt">B</text></g>
<g><circle cx="161" cy="524" r="5.4" fill="#cd8d5c" stroke="#fff" stroke-width="1.3"/><text x="161" y="527.06" font-size="8.5" class="mt">B</text></g>
<g><circle cx="218.7" cy="513" r="5.4" fill="#d65ae2" stroke="#fff" stroke-width="1.3"/><text x="218.7" y="516.06" font-size="8.5" class="mt">R</text></g>
<g><circle cx="261" cy="503.7" r="5.4" fill="#f0434f" stroke="#fff" stroke-width="1.3"/><text x="261" y="506.76" font-size="8.5" class="mt">3</text></g>
<g><circle cx="224" cy="554" r="5.4" fill="#cd8d5c" stroke="#fff" stroke-width="1.3"/><text x="224" y="557.06" font-size="8.5" class="mt">B</text></g>
<g><circle cx="302" cy="566" r="5.4" fill="#cd8d5c" stroke="#fff" stroke-width="1.3"/><text x="302" y="569.06" font-size="8.5" class="mt">B</text></g>
<g><circle cx="323.7" cy="576.7" r="5.4" fill="#f0434f" stroke="#fff" stroke-width="1.3"/><text x="323.7" y="579.76" font-size="8.5" class="mt">1</text></g>
<g><circle cx="144.5" cy="592.5" r="5.4" fill="#cd8d5c" stroke="#fff" stroke-width="1.3"/><text x="144.5" y="595.56" font-size="8.5" class="mt">B</text></g>
<g><circle cx="233" cy="612.5" r="5.4" fill="#f0434f" stroke="#fff" stroke-width="1.3"/><text x="233" y="615.56" font-size="8.5" class="mt">2</text></g>
<g><circle cx="233" cy="644.5" r="5.4" fill="#cd8d5c" stroke="#fff" stroke-width="1.3"/><text x="233" y="647.56" font-size="8.5" class="mt">B</text></g>
<g><circle cx="339" cy="140" r="5.4" fill="#cd8d5c" stroke="#fff" stroke-width="1.3"/><text x="339" y="143.06" font-size="8.5" class="mt">B</text></g>
<g><circle cx="360" cy="143" r="5.4" fill="#f0434f" stroke="#fff" stroke-width="1.3"/><text x="360" y="146.06" font-size="8.5" class="mt">1</text></g>
<g><circle cx="437.3" cy="120.7" r="5.4" fill="#cd8d5c" stroke="#fff" stroke-width="1.3"/><text x="437.3" y="123.76" font-size="8.5" class="mt">B</text></g>
<g><circle cx="440" cy="202.5" r="5.4" fill="#d65ae2" stroke="#fff" stroke-width="1.3"/><text x="440" y="205.56" font-size="8.5" class="mt">R</text></g>
<g><circle cx="475.3" cy="210.7" r="5.4" fill="#f0434f" stroke="#fff" stroke-width="1.3"/><text x="475.3" y="213.76" font-size="8.5" class="mt">2</text></g>
<g><circle cx="529.3" cy="190.6" r="5.4" fill="#f0434f" stroke="#fff" stroke-width="1.3"/><text x="529.3" y="193.66" font-size="8.5" class="mt">2</text></g>
<g><circle cx="517" cy="228" r="5.4" fill="#f0434f" stroke="#fff" stroke-width="1.3"/><text x="517" y="231.06" font-size="8.5" class="mt">1</text></g>
<g><circle cx="390" cy="238" r="5.4" fill="#cd8d5c" stroke="#fff" stroke-width="1.3"/><text x="390" y="241.06" font-size="8.5" class="mt">B</text></g>
<g><circle cx="439.5" cy="262" r="5.4" fill="#cd8d5c" stroke="#fff" stroke-width="1.3"/><text x="439.5" y="265.06" font-size="8.5" class="mt">B</text></g>
<g><circle cx="468.7" cy="357.5" r="5.4" fill="#cd8d5c" stroke="#fff" stroke-width="1.3"/><text x="468.7" y="360.56" font-size="8.5" class="mt">B</text></g>
<g><circle cx="390" cy="445" r="5.4" fill="#cd8d5c" stroke="#fff" stroke-width="1.3"/><text x="390" y="448.06" font-size="8.5" class="mt">B</text></g>
<g><circle cx="478.3" cy="475.7" r="5.4" fill="#cd8d5c" stroke="#fff" stroke-width="1.3"/><text x="478.3" y="478.76" font-size="8.5" class="mt">B</text></g>
<g><circle cx="595" cy="470" r="5.4" fill="#cd8d5c" stroke="#fff" stroke-width="1.3"/><text x="595" y="473.06" font-size="8.5" class="mt">B</text></g>
<g><circle cx="864.5" cy="51.2" r="5.4" fill="#cd8d5c" stroke="#fff" stroke-width="1.3"/><text x="864.5" y="54.26" font-size="8.5" class="mt">B</text></g>
<g><circle cx="889.5" cy="83.6" r="5.4" fill="#cd8d5c" stroke="#fff" stroke-width="1.3"/><text x="889.5" y="86.66" font-size="8.5" class="mt">B</text></g>
<g><circle cx="807.2" cy="96.6" r="5.4" fill="#f0434f" stroke="#fff" stroke-width="1.3"/><text x="807.2" y="99.66" font-size="8.5" class="mt">1</text></g>
<g><circle cx="845.5" cy="100.6" r="5.4" fill="#f0434f" stroke="#fff" stroke-width="1.3"/><text x="845.5" y="103.66" font-size="8.5" class="mt">1</text></g>
<g><circle cx="854.5" cy="118.4" r="5.4" fill="#f0434f" stroke="#fff" stroke-width="1.3"/><text x="854.5" y="121.46" font-size="8.5" class="mt">1</text></g>
<g><circle cx="806" cy="131.2" r="5.4" fill="#f0434f" stroke="#fff" stroke-width="1.3"/><text x="806" y="134.26" font-size="8.5" class="mt">1</text></g>
<g><circle cx="803.7" cy="164.9" r="5.4" fill="#cd8d5c" stroke="#fff" stroke-width="1.3"/><text x="803.7" y="167.96" font-size="8.5" class="mt">B</text></g>
<g><circle cx="889.2" cy="125.6" r="5.4" fill="#cd8d5c" stroke="#fff" stroke-width="1.3"/><text x="889.2" y="128.66" font-size="8.5" class="mt">B</text></g>
<g><circle cx="824.3" cy="178.5" r="5.4" fill="#d65ae2" stroke="#fff" stroke-width="1.3"/><text x="824.3" y="181.56" font-size="8.5" class="mt">R</text></g>
<g><circle cx="814.5" cy="240.5" r="5.4" fill="#cd8d5c" stroke="#fff" stroke-width="1.3"/><text x="814.5" y="243.56" font-size="8.5" class="mt">B</text></g>
<g><circle cx="853.7" cy="255" r="5.4" fill="#d65ae2" stroke="#fff" stroke-width="1.3"/><text x="853.7" y="258.06" font-size="8.5" class="mt">R</text></g>
<g><circle cx="896" cy="273.7" r="5.4" fill="#f0434f" stroke="#fff" stroke-width="1.3"/><text x="896" y="276.76" font-size="8.5" class="mt">1</text></g>
<g><circle cx="924.5" cy="273.7" r="5.4" fill="#f0434f" stroke="#fff" stroke-width="1.3"/><text x="924.5" y="276.76" font-size="8.5" class="mt">2</text></g>
<g><circle cx="879" cy="336.7" r="5.4" fill="#cd8d5c" stroke="#fff" stroke-width="1.3"/><text x="879" y="339.76" font-size="8.5" class="mt">B</text></g>
<g><circle cx="897" cy="349" r="5.4" fill="#f0434f" stroke="#fff" stroke-width="1.3"/><text x="897" y="352.06" font-size="8.5" class="mt">2</text></g>
<g><circle cx="921.7" cy="366" r="5.4" fill="#cd8d5c" stroke="#fff" stroke-width="1.3"/><text x="921.7" y="369.06" font-size="8.5" class="mt">B</text></g>
<g><circle cx="837.5" cy="368" r="5.4" fill="#d65ae2" stroke="#fff" stroke-width="1.3"/><text x="837.5" y="371.06" font-size="8.5" class="mt">R</text></g>
<g><circle cx="896" cy="400.5" r="5.4" fill="#f0434f" stroke="#fff" stroke-width="1.3"/><text x="896" y="403.56" font-size="8.5" class="mt">1</text></g>
<g><circle cx="883.7" cy="433" r="5.4" fill="#cd8d5c" stroke="#fff" stroke-width="1.3"/><text x="883.7" y="436.06" font-size="8.5" class="mt">B</text></g>
<g><circle cx="852.4" cy="487.4" r="5.4" fill="#cd8d5c" stroke="#fff" stroke-width="1.3"/><text x="852.4" y="490.46" font-size="8.5" class="mt">B</text></g>
<g><circle cx="854.7" cy="514" r="5.4" fill="#f0434f" stroke="#fff" stroke-width="1.3"/><text x="854.7" y="517.06" font-size="8.5" class="mt">1</text></g>
<g><circle cx="853" cy="532" r="5.4" fill="#cd8d5c" stroke="#fff" stroke-width="1.3"/><text x="853" y="535.06" font-size="8.5" class="mt">B</text></g>
<g><circle cx="878" cy="550" r="5.4" fill="#cd8d5c" stroke="#fff" stroke-width="1.3"/><text x="878" y="553.06" font-size="8.5" class="mt">B</text></g>
<g><circle cx="851.2" cy="561.5" r="5.4" fill="#f0434f" stroke="#fff" stroke-width="1.3"/><text x="851.2" y="564.56" font-size="8.5" class="mt">1</text></g>
<g><circle cx="856.8" cy="588" r="5.4" fill="#d65ae2" stroke="#fff" stroke-width="1.3"/><text x="856.8" y="591.06" font-size="8.5" class="mt">R</text></g>
<g><circle cx="857.4" cy="611.5" r="5.4" fill="#f0434f" stroke="#fff" stroke-width="1.3"/><text x="857.4" y="614.56" font-size="8.5" class="mt">1</text></g>
<g><circle cx="1119.5" cy="77" r="5.4" fill="#cd8d5c" stroke="#fff" stroke-width="1.3"/><text x="1119.5" y="80.06" font-size="8.5" class="mt">B</text></g>
<g><circle cx="1112" cy="90.7" r="5.4" fill="#1fb455" stroke="#fff" stroke-width="1.3"/><text x="1112" y="93.76" font-size="8.5" class="mt">E</text></g>
<g><circle cx="1093" cy="112.5" r="5.4" fill="#cd8d5c" stroke="#fff" stroke-width="1.3"/><text x="1093" y="115.56" font-size="8.5" class="mt">B</text></g>
<g><circle cx="1054.5" cy="169" r="5.4" fill="#1fb455" stroke="#fff" stroke-width="1.3"/><text x="1054.5" y="172.06" font-size="8.5" class="mt">E</text></g>
<g><circle cx="1083" cy="183" r="5.4" fill="#cd8d5c" stroke="#fff" stroke-width="1.3"/><text x="1083" y="186.06" font-size="8.5" class="mt">B</text></g>
<g><circle cx="1140.5" cy="195" r="5.4" fill="#f0434f" stroke="#fff" stroke-width="1.3"/><text x="1140.5" y="198.06" font-size="8.5" class="mt">3</text></g>
<g><circle cx="1122" cy="206" r="5.4" fill="#d65ae2" stroke="#fff" stroke-width="1.3"/><text x="1122" y="209.06" font-size="8.5" class="mt">R</text></g>
<g><circle cx="1159" cy="334" r="5.4" fill="#cd8d5c" stroke="#fff" stroke-width="1.3"/><text x="1159" y="337.06" font-size="8.5" class="mt">B</text></g>
<g><circle cx="1147" cy="434" r="5.4" fill="#cd8d5c" stroke="#fff" stroke-width="1.3"/><text x="1147" y="437.06" font-size="8.5" class="mt">B</text></g>
<g><circle cx="1073.4" cy="506.9" r="5.4" fill="#d65ae2" stroke="#fff" stroke-width="1.3"/><text x="1073.4" y="509.96" font-size="8.5" class="mt">R</text></g>
<g><circle cx="1016.9" cy="531.2" r="5.4" fill="#f0434f" stroke="#fff" stroke-width="1.3"/><text x="1016.9" y="534.26" font-size="8.5" class="mt">1</text></g>
<g><circle cx="1013" cy="544.3" r="5.4" fill="#cd8d5c" stroke="#fff" stroke-width="1.3"/><text x="1013" y="547.36" font-size="8.5" class="mt">B</text></g>
<g><circle cx="1020.4" cy="555" r="5.4" fill="#f0434f" stroke="#fff" stroke-width="1.3"/><text x="1020.4" y="558.06" font-size="8.5" class="mt">1</text></g>
<g><circle cx="1045.8" cy="565.5" r="5.4" fill="#cd8d5c" stroke="#fff" stroke-width="1.3"/><text x="1045.8" y="568.56" font-size="8.5" class="mt">B</text></g>
<g><circle cx="1044.6" cy="583" r="5.4" fill="#f0434f" stroke="#fff" stroke-width="1.3"/><text x="1044.6" y="586.06" font-size="8.5" class="mt">1</text></g>
<g><circle cx="1106.5" cy="540.2" r="5.4" fill="#f0434f" stroke="#fff" stroke-width="1.3"/><text x="1106.5" y="543.26" font-size="8.5" class="mt">2</text></g>
<g><circle cx="1135.2" cy="540.8" r="5.4" fill="#f0434f" stroke="#fff" stroke-width="1.3"/><text x="1135.2" y="543.86" font-size="8.5" class="mt">1</text></g>
<g><circle cx="1126.5" cy="584.9" r="5.4" fill="#cd8d5c" stroke="#fff" stroke-width="1.3"/><text x="1126.5" y="587.96" font-size="8.5" class="mt">B</text></g>
<circle cx="687.5" cy="708.7" r="9.2" fill="#fff" stroke="#f1eeee" stroke-width="1"/>
<circle cx="711" cy="708.7" r="9.2" fill="#fff" stroke="#f1eeee" stroke-width="1"/>
<circle cx="735" cy="708.7" r="9.2" fill="#fff" stroke="#f1eeee" stroke-width="1"/>
<circle cx="863.5" cy="708.7" r="9.2" fill="#fff" stroke="#f1eeee" stroke-width="1"/>
<circle cx="949.6" cy="708.7" r="9.2" fill="#fff" stroke="#f1eeee" stroke-width="1"/>
<circle cx="1081" cy="708.7" r="9.2" fill="#fff" stroke="#f1eeee" stroke-width="1"/>
<circle cx="1182" cy="708.7" r="9.2" fill="#fff" stroke="#f1eeee" stroke-width="1"/>
<circle cx="1316" cy="708.7" r="9.2" fill="#fff" stroke="#f1eeee" stroke-width="1"/>
<line x1="1182" y1="708.7" x2="1316" y2="708.7" stroke="#fff" stroke-width="10.5"/>
<line x1="1182" y1="708.7" x2="1316" y2="708.7" stroke="#f8464f" stroke-width="7.2"/>
<g><circle cx="687.5" cy="708.7" r="6.8" fill="#f8464f"/><text x="687.5" y="712.3" font-size="10" class="mt">1</text></g>
<g><circle cx="711" cy="708.7" r="6.8" fill="#f8464f"/><text x="711" y="712.3" font-size="10" class="mt">2</text></g>
<g><circle cx="735" cy="708.7" r="6.8" fill="#f8464f"/><text x="735" y="712.3" font-size="10" class="mt">3</text></g>
<g><circle cx="863.5" cy="708.7" r="6.8" fill="#1fb455"/><text x="863.5" y="712.3" font-size="10" class="mt">E</text></g>
<g><circle cx="949.6" cy="708.7" r="6.8" fill="#d65ae2"/><text x="949.6" y="712.3" font-size="10" class="mt">R</text></g>
<g><circle cx="1081" cy="708.7" r="6.8" fill="#cd8d5c"/><text x="1081" y="712.3" font-size="10" class="mt">B</text></g>
<g><circle cx="1182" cy="708.7" r="6.8" fill="#f8464f"/><text x="1182" y="712.3" font-size="10" class="mt">A</text></g>
<g><circle cx="1316" cy="708.7" r="6.8" fill="#f8464f"/><text x="1316" y="712.3" font-size="10" class="mt">A</text></g></g>
<g opacity="0.999"><text x="230" y="318" class="rt">天桥上</text><text x="239" y="362.5" class="rt">天桥下</text><text x="252" y="394" class="rt">天桥下</text>
<g transform="translate(131,150)"><ellipse cx="0" cy="2.5" rx="8" ry="3.2" fill="none" stroke="#2f9bf0" stroke-width="1.5" transform="rotate(20)"/><path d="M0.5,-8.5 L3.5,-4 L2.5,-1 L5,1 L2,5.5 L-3,5 L-5,1 L-2.5,-1 L-3,-4.5 Z" fill="#3aa2f4" stroke="#8fd0ff" stroke-width="0.7"/><path d="M-2,-3 L1,-4.5 L1.5,-1.5 L-1,0 Z M-2,1.5 L2,1 L1,4 L-2,4 Z" fill="#d9f1ff"/><path d="M-7.5,-0.5 A8,3.2 20 0 0 7.6,5.2" fill="none" stroke="#7cc6ff" stroke-width="1.2"/></g>
<g transform="translate(353.7,576)"><ellipse cx="0" cy="2.5" rx="8" ry="3.2" fill="none" stroke="#2f9bf0" stroke-width="1.5" transform="rotate(20)"/><path d="M0.5,-8.5 L3.5,-4 L2.5,-1 L5,1 L2,5.5 L-3,5 L-5,1 L-2.5,-1 L-3,-4.5 Z" fill="#3aa2f4" stroke="#8fd0ff" stroke-width="0.7"/><path d="M-2,-3 L1,-4.5 L1.5,-1.5 L-1,0 Z M-2,1.5 L2,1 L1,4 L-2,4 Z" fill="#d9f1ff"/><path d="M-7.5,-0.5 A8,3.2 20 0 0 7.6,5.2" fill="none" stroke="#7cc6ff" stroke-width="1.2"/></g>
<g><polygon points="141,113.8 133,109.8 133,112.2 127,112.2 127,115.2 133,115.2 133,117.7" fill="#fff" stroke="#a63be3" stroke-width="1.3" stroke-linejoin="round"/><rect x="95.7" y="108" width="34.3" height="11.5" rx="5.75" fill="#fff" stroke="#a63be3" stroke-width="1.6"/><rect x="127" y="112.85" width="3.2" height="1.8" fill="#fff"/><text x="112.85" y="116.342" font-size="7.2" fill="#a63be3" class="lt">补充</text></g>
<g><rect x="16" y="144.5" width="35" height="11.5" rx="5.75" fill="#fff" stroke="#a63be3" stroke-width="1.6"/><text x="33.5" y="152.842" font-size="7.2" fill="#a63be3" class="lt">2 剩余</text></g>
<g><polygon points="112.5,150 102,145.2 102,147.9 94.5,147.9 94.5,152.1 102,152.1 102,154.8" fill="#fff" stroke="#f7a06a" stroke-width="1.3" stroke-linejoin="round"/><rect x="50" y="142" width="47.5" height="16" rx="8" fill="#fff" stroke="#f7a06a" stroke-width="1.4"/><rect x="94.5" y="148.5" width="3.2" height="3" fill="#fff"/><text x="73.75" y="154.14" font-size="11.5" fill="#f79a58" class="lt">1 起点</text></g>
<g><polygon points="110,190 120.5,185.2 120.5,187.9 128,187.9 128,192.1 120.5,192.1 120.5,194.8" fill="#fff" stroke="#f7a06a" stroke-width="1.3" stroke-linejoin="round"/><rect x="125" y="182" width="48" height="16" rx="8" fill="#fff" stroke="#f7a06a" stroke-width="1.4"/><rect x="124.8" y="188.5" width="3.2" height="3" fill="#fff"/><text x="149" y="194.14" font-size="11.5" fill="#f79a58" class="lt">1 路线B</text></g>
<g><polygon points="125,211.6 133,207.7 133,210.1 139,210.1 139,213.1 133,213.1 133,215.5" fill="#fff" stroke="#a63be3" stroke-width="1.3" stroke-linejoin="round"/><rect x="136" y="205.7" width="49.5" height="11.8" rx="5.9" fill="#fff" stroke="#a63be3" stroke-width="1.6"/><rect x="135.8" y="210.7" width="3.2" height="1.8" fill="#fff"/><text x="160.75" y="214.192" font-size="7.2" fill="#a63be3" class="lt">奇巧零食×1</text></g>
<g><polygon points="127.5,242.2 135.5,238.3 135.5,240.8 141.7,240.8 141.7,243.8 135.5,243.8 135.5,246.2" fill="#fff" stroke="#a63be3" stroke-width="1.3" stroke-linejoin="round"/><rect x="138.7" y="237" width="34.3" height="10.5" rx="5.25" fill="#fff" stroke="#a63be3" stroke-width="1.6"/><rect x="138.5" y="241.35" width="3.2" height="1.8" fill="#fff"/><text x="155.85" y="244.842" font-size="7.2" fill="#a63be3" class="lt">补充</text></g>
<g><polygon points="250,369.6 258,365.7 258,368.1 264,368.1 264,371.1 258,371.1 258,373.5" fill="#fff" stroke="#a63be3" stroke-width="1.3" stroke-linejoin="round"/><rect x="261" y="363.7" width="49" height="11.8" rx="5.9" fill="#fff" stroke="#a63be3" stroke-width="1.6"/><rect x="260.8" y="368.7" width="3.2" height="1.8" fill="#fff"/><text x="285.5" y="372.192" font-size="7.2" fill="#a63be3" class="lt">奇巧零食×1</text></g>
<g><polygon points="440.5,195.5 436.6,189.4 439,189.4 439,182.7 442,182.7 442,189.4 444.4,189.4" fill="#fff" stroke="#a63be3" stroke-width="1.3" stroke-linejoin="round"/><rect x="422.5" y="174.5" width="36.2" height="11.2" rx="5.6" fill="#fff" stroke="#a63be3" stroke-width="1.6"/><rect x="439.6" y="182.7" width="1.8" height="3.2" fill="#fff"/><text x="440.6" y="182.692" font-size="7.2" fill="#a63be3" class="lt">补充</text></g>
<g><polygon points="212.5,513.1 204.5,509.2 204.5,511.6 198,511.6 198,514.6 204.5,514.6 204.5,517" fill="#fff" stroke="#a63be3" stroke-width="1.3" stroke-linejoin="round"/><rect x="167" y="507.5" width="34" height="11.2" rx="5.6" fill="#fff" stroke="#a63be3" stroke-width="1.6"/><rect x="198" y="512.2" width="3.2" height="1.8" fill="#fff"/><text x="184" y="515.692" font-size="7.2" fill="#a63be3" class="lt">补充</text></g>
<g><polygon points="225,612.5 217,608.6 217,611 210.7,611 210.7,614 217,614 217,616.4" fill="#fff" stroke="#a63be3" stroke-width="1.3" stroke-linejoin="round"/><rect x="165" y="607" width="48.7" height="11" rx="5.5" fill="#fff" stroke="#a63be3" stroke-width="1.6"/><rect x="210.7" y="611.6" width="3.2" height="1.8" fill="#fff"/><text x="189.35" y="615.092" font-size="7.2" fill="#a63be3" class="lt">奇巧零食×2</text></g>
<g><polygon points="353.7,585 348.9,594 351.6,594 351.6,602.5 355.8,602.5 355.8,594 358.5,594" fill="#fff" stroke="#f7a06a" stroke-width="1.3" stroke-linejoin="round"/><rect x="329.5" y="599.5" width="48" height="15.5" rx="7.75" fill="#fff" stroke="#f7a06a" stroke-width="1.4"/><rect x="352.2" y="599.3" width="3" height="3.2" fill="#fff"/><text x="353.5" y="611.39" font-size="11.5" fill="#f79a58" class="lt">2 起点</text></g>
<g><rect x="335.7" y="613.7" width="35.3" height="11.8" rx="5.9" fill="#fff" stroke="#a63be3" stroke-width="1.6"/><text x="353.35" y="622.192" font-size="7.2" fill="#a63be3" class="lt">1 剩余</text></g>
<text x="1112" y="102.5" class="gt">可选</text><text x="1054.5" y="180.5" class="gt">可选</text>
<g transform="translate(875,186)"><ellipse cx="0" cy="2.5" rx="8" ry="3.2" fill="none" stroke="#2f9bf0" stroke-width="1.5" transform="rotate(20)"/><path d="M0.5,-8.5 L3.5,-4 L2.5,-1 L5,1 L2,5.5 L-3,5 L-5,1 L-2.5,-1 L-3,-4.5 Z" fill="#3aa2f4" stroke="#8fd0ff" stroke-width="0.7"/><path d="M-2,-3 L1,-4.5 L1.5,-1.5 L-1,0 Z M-2,1.5 L2,1 L1,4 L-2,4 Z" fill="#d9f1ff"/><path d="M-7.5,-0.5 A8,3.2 20 0 0 7.6,5.2" fill="none" stroke="#7cc6ff" stroke-width="1.2"/></g>
<g transform="translate(1077,255)"><ellipse cx="0" cy="2.5" rx="8" ry="3.2" fill="none" stroke="#2f9bf0" stroke-width="1.5" transform="rotate(20)"/><path d="M0.5,-8.5 L3.5,-4 L2.5,-1 L5,1 L2,5.5 L-3,5 L-5,1 L-2.5,-1 L-3,-4.5 Z" fill="#3aa2f4" stroke="#8fd0ff" stroke-width="0.7"/><path d="M-2,-3 L1,-4.5 L1.5,-1.5 L-1,0 Z M-2,1.5 L2,1 L1,4 L-2,4 Z" fill="#d9f1ff"/><path d="M-7.5,-0.5 A8,3.2 20 0 0 7.6,5.2" fill="none" stroke="#7cc6ff" stroke-width="1.2"/></g>
<g transform="translate(1046,468)"><ellipse cx="0" cy="2.5" rx="8" ry="3.2" fill="none" stroke="#2f9bf0" stroke-width="1.5" transform="rotate(20)"/><path d="M0.5,-8.5 L3.5,-4 L2.5,-1 L5,1 L2,5.5 L-3,5 L-5,1 L-2.5,-1 L-3,-4.5 Z" fill="#3aa2f4" stroke="#8fd0ff" stroke-width="0.7"/><path d="M-2,-3 L1,-4.5 L1.5,-1.5 L-1,0 Z M-2,1.5 L2,1 L1,4 L-2,4 Z" fill="#d9f1ff"/><path d="M-7.5,-0.5 A8,3.2 20 0 0 7.6,5.2" fill="none" stroke="#7cc6ff" stroke-width="1.2"/></g>
<g><polygon points="856.8,101 864.8,97.1 864.8,99.5 871.6,99.5 871.6,102.5 864.8,102.5 864.8,105" fill="#fff" stroke="#a63be3" stroke-width="1.3" stroke-linejoin="round"/><rect x="868.6" y="95.6" width="47.4" height="10.9" rx="5.45" fill="#fff" stroke="#a63be3" stroke-width="1.6"/><rect x="868.4" y="100.15" width="3.2" height="1.8" fill="#fff"/><text x="892.3" y="103.642" font-size="7.2" fill="#a63be3" class="lt">奇巧零食×1</text></g>
<polygon points="881,180 889,172.5 890.5,175 897,171.5 899,176 892.5,179 893.5,182" fill="#fff" stroke="#f5985a" stroke-width="1.2" stroke-linejoin="round"/>
<g><rect x="895.5" y="162.5" width="46.5" height="16.2" rx="8.1" fill="#fff" stroke="#f7a06a" stroke-width="1.4"/><text x="918.75" y="174.74" font-size="11.5" fill="#f79a58" class="lt">3 起点</text></g>
<g><rect x="942" y="165" width="35.5" height="11" rx="5.5" fill="#fff" stroke="#a63be3" stroke-width="1.6"/><text x="959.75" y="173.092" font-size="7.2" fill="#a63be3" class="lt">0 剩余</text></g>
<g><polygon points="824.3,185 820.4,191.2 822.8,191.2 822.8,198 825.8,198 825.8,191.2 828.2,191.2" fill="#fff" stroke="#a63be3" stroke-width="1.3" stroke-linejoin="round"/><rect x="806.8" y="195" width="35" height="11" rx="5.5" fill="#fff" stroke="#a63be3" stroke-width="1.6"/><rect x="823.4" y="194.8" width="1.8" height="3.2" fill="#fff"/><text x="824.3" y="203.092" font-size="7.2" fill="#a63be3" class="lt">补充</text></g>
<g><polygon points="912,226.3 922.5,221.5 922.5,224.2 930,224.2 930,228.4 922.5,228.4 922.5,231.2" fill="#fff" stroke="#f7a06a" stroke-width="1.3" stroke-linejoin="round"/><rect x="927" y="218.7" width="48" height="15.3" rx="7.65" fill="#fff" stroke="#f7a06a" stroke-width="1.4"/><rect x="926.8" y="224.85" width="3.2" height="3" fill="#fff"/><text x="951" y="230.49" font-size="11.5" fill="#f79a58" class="lt">3 路线B</text></g>
<g><polygon points="934,274.6 942,270.7 942,273.1 948,273.1 948,276.1 942,276.1 942,278.5" fill="#fff" stroke="#a63be3" stroke-width="1.3" stroke-linejoin="round"/><rect x="945" y="268.7" width="49" height="11.8" rx="5.9" fill="#fff" stroke="#a63be3" stroke-width="1.6"/><rect x="944.8" y="273.7" width="3.2" height="1.8" fill="#fff"/><text x="969.5" y="277.192" font-size="7.2" fill="#a63be3" class="lt">奇巧零食×2</text></g>
<g><polygon points="837.5,362 833.6,354.2 836,354.2 836,346.5 839,346.5 839,354.2 841.4,354.2" fill="#fff" stroke="#a63be3" stroke-width="1.3" stroke-linejoin="round"/><rect x="820.7" y="338.7" width="34.8" height="10.8" rx="5.4" fill="#fff" stroke="#a63be3" stroke-width="1.6"/><rect x="836.6" y="346.5" width="1.8" height="3.2" fill="#fff"/><text x="838.1" y="346.692" font-size="7.2" fill="#a63be3" class="lt">补充</text></g>
<g><polygon points="918.7,350 926.7,346.1 926.7,348.5 931.7,348.5 931.7,351.5 926.7,351.5 926.7,353.9" fill="#fff" stroke="#a63be3" stroke-width="1.3" stroke-linejoin="round"/><rect x="928.7" y="344.5" width="48.8" height="11" rx="5.5" fill="#fff" stroke="#a63be3" stroke-width="1.6"/><rect x="928.5" y="349.1" width="3.2" height="1.8" fill="#fff"/><text x="953.1" y="352.592" font-size="7.2" fill="#a63be3" class="lt">奇巧零食×1</text></g>
<g><polygon points="865.5,588.6 873.5,584.8 873.5,587.1 879,587.1 879,590.1 873.5,590.1 873.5,592.5" fill="#fff" stroke="#a63be3" stroke-width="1.3" stroke-linejoin="round"/><rect x="876" y="583" width="34" height="11.3" rx="5.65" fill="#fff" stroke="#a63be3" stroke-width="1.6"/><rect x="875.8" y="587.75" width="3.2" height="1.8" fill="#fff"/><text x="893" y="591.242" font-size="7.2" fill="#a63be3" class="lt">补充</text></g>
<g><polygon points="1086,255 1096.5,250.2 1096.5,252.9 1103.7,252.9 1103.7,257.1 1096.5,257.1 1096.5,259.8" fill="#fff" stroke="#f7a06a" stroke-width="1.3" stroke-linejoin="round"/><rect x="1100.7" y="247" width="47.3" height="16" rx="8" fill="#fff" stroke="#f7a06a" stroke-width="1.4"/><rect x="1100.5" y="253.5" width="3.2" height="3" fill="#fff"/><text x="1124.35" y="259.14" font-size="11.5" fill="#f79a58" class="lt">5 起点</text></g>
<g><rect x="1146.7" y="249" width="35.3" height="12" rx="6" fill="#fff" stroke="#a63be3" stroke-width="1.6"/><text x="1164.35" y="257.592" font-size="7.2" fill="#a63be3" class="lt">1 剩余</text></g>
<g><polygon points="1122,213 1118.1,219.2 1120.5,219.2 1120.5,226 1123.5,226 1123.5,219.2 1125.9,219.2" fill="#fff" stroke="#a63be3" stroke-width="1.3" stroke-linejoin="round"/><rect x="1104.5" y="223" width="35.5" height="12" rx="6" fill="#fff" stroke="#a63be3" stroke-width="1.6"/><rect x="1121.1" y="222.8" width="1.8" height="3.2" fill="#fff"/><text x="1122.25" y="231.592" font-size="7.2" fill="#a63be3" class="lt">补充</text></g>
<g><rect x="1029" y="417.5" width="35.5" height="11.5" rx="5.75" fill="#fff" stroke="#a63be3" stroke-width="1.6"/><text x="1046.75" y="425.842" font-size="7.2" fill="#a63be3" class="lt">1 剩余</text></g>
<g><polygon points="1046.7,457.5 1041.9,448.9 1044.6,448.9 1044.6,440.7 1048.8,440.7 1048.8,448.9 1051.5,448.9" fill="#fff" stroke="#f7a06a" stroke-width="1.3" stroke-linejoin="round"/><rect x="1022.5" y="428" width="48.5" height="15.7" rx="7.85" fill="#fff" stroke="#f7a06a" stroke-width="1.4"/><rect x="1045.2" y="440.7" width="3" height="3.2" fill="#fff"/><text x="1046.75" y="439.99" font-size="11.5" fill="#f79a58" class="lt">4 起点</text></g>
<g><polygon points="1083.6,508.1 1091.6,504.2 1091.6,506.6 1097.9,506.6 1097.9,509.6 1091.6,509.6 1091.6,512" fill="#fff" stroke="#a63be3" stroke-width="1.3" stroke-linejoin="round"/><rect x="1094.9" y="502.5" width="33.7" height="11.2" rx="5.6" fill="#fff" stroke="#a63be3" stroke-width="1.6"/><rect x="1094.7" y="507.2" width="3.2" height="1.8" fill="#fff"/><text x="1111.75" y="510.692" font-size="7.2" fill="#a63be3" class="lt">补充</text></g>
<g><polygon points="1145,540.9 1153,537 1153,539.4 1158,539.4 1158,542.4 1153,542.4 1153,544.8" fill="#fff" stroke="#a63be3" stroke-width="1.3" stroke-linejoin="round"/><rect x="1155" y="535" width="50" height="11.7" rx="5.85" fill="#fff" stroke="#a63be3" stroke-width="1.6"/><rect x="1154.8" y="539.95" width="3.2" height="1.8" fill="#fff"/><text x="1180" y="543.442" font-size="7.2" fill="#a63be3" class="lt">奇巧零食×2</text></g>
<text x="753.5" y="714" class="lg" textLength="90">普通怪(波数)</text>
<text x="882" y="714" class="lg" textLength="46">精英怪</text>
<text x="968" y="714" class="lg" textLength="93">秘技点恢复瓶</text>
<text x="1100" y="714" class="lg" textLength="61">可破坏物</text>
<text x="1217.5" y="698.5" class="lg" textLength="62.5">楼层切换</text></g>
</svg></body></html>
